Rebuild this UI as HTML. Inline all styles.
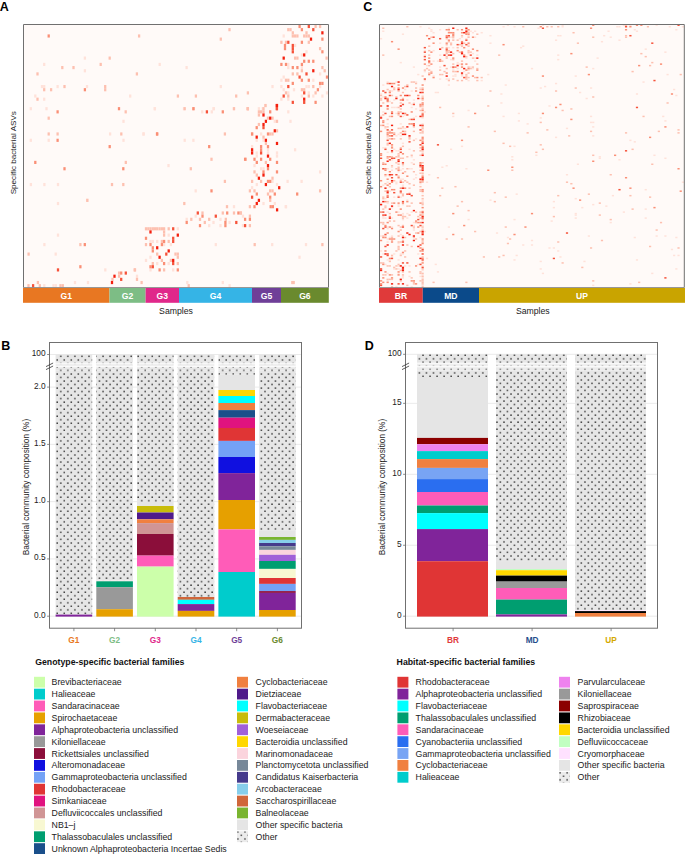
<!DOCTYPE html>
<html><head><meta charset="utf-8"><style>
html,body{margin:0;padding:0;background:#fff;}
body{width:685px;height:854px;overflow:hidden;position:relative;font-family:"Liberation Sans", sans-serif;}
svg{position:absolute;left:0;top:0;}
text{font-family:"Liberation Sans", sans-serif;}
</style></head><body>
<svg width="685" height="854" viewBox="0 0 685 854">
<defs>
<pattern id="dotsB" patternUnits="userSpaceOnUse" x="55.40" y="354.50" width="7.04" height="7.04"><rect width="7.04" height="7.04" fill="#e6e6e6"/><rect x="4.65" y="1.25" width="1.5" height="1.3" fill="#262626"/><rect x="1.13" y="4.77" width="1.5" height="1.3" fill="#262626"/></pattern>
<pattern id="dotsBl" patternUnits="userSpaceOnUse" x="55.40" y="354.50" width="7.04" height="7.04"><rect width="7.04" height="7.04" fill="#efefef"/><rect x="4.65" y="1.25" width="1.5" height="1.3" fill="#aaa"/><rect x="1.13" y="4.77" width="1.5" height="1.3" fill="#aaa"/></pattern>
<pattern id="dotsBm" patternUnits="userSpaceOnUse" x="55.40" y="354.50" width="7.04" height="7.04"><rect width="7.04" height="7.04" fill="#e6e6e6"/><rect x="4.65" y="1.25" width="1.5" height="1.3" fill="#262626"/><rect x="1.13" y="4.77" width="1.5" height="1.3" fill="#262626"/></pattern>
<pattern id="dotsD" patternUnits="userSpaceOnUse" x="417.60" y="353.40" width="7.04" height="7.04"><rect width="7.04" height="7.04" fill="#e6e6e6"/><rect x="4.65" y="1.25" width="1.5" height="1.3" fill="#262626"/><rect x="1.13" y="4.77" width="1.5" height="1.3" fill="#262626"/></pattern>
<pattern id="dotsDl" patternUnits="userSpaceOnUse" x="417.60" y="353.40" width="7.04" height="7.04"><rect width="7.04" height="7.04" fill="#efefef"/><rect x="4.65" y="1.25" width="1.5" height="1.3" fill="#aaa"/><rect x="1.13" y="4.77" width="1.5" height="1.3" fill="#aaa"/></pattern>
<pattern id="dotsDm" patternUnits="userSpaceOnUse" x="417.60" y="353.40" width="7.04" height="7.04"><rect width="7.04" height="7.04" fill="#ebebeb"/><rect x="4.65" y="1.25" width="1.5" height="1.3" fill="#777"/><rect x="1.13" y="4.77" width="1.5" height="1.3" fill="#777"/></pattern>
<pattern id="dotsLB" patternUnits="userSpaceOnUse" x="236.00" y="833.50" width="7.04" height="7.04"><rect width="7.04" height="7.04" fill="#ebebeb"/><rect x="4.65" y="1.25" width="1.5" height="1.3" fill="#333"/><rect x="1.13" y="4.77" width="1.5" height="1.3" fill="#333"/></pattern>
<pattern id="dotsLD" patternUnits="userSpaceOnUse" x="558.20" y="774.40" width="7.04" height="7.04"><rect width="7.04" height="7.04" fill="#ebebeb"/><rect x="4.65" y="1.25" width="1.5" height="1.3" fill="#333"/><rect x="1.13" y="4.77" width="1.5" height="1.3" fill="#333"/></pattern>
</defs>

<text x="-0.3" y="10.6" font-size="12.5" font-weight="bold" fill="#000">A</text>
<text x="363.2" y="10.6" font-size="12.5" font-weight="bold" fill="#000">C</text>
<text x="1.2" y="349.6" font-size="12.5" font-weight="bold" fill="#000">B</text>
<text x="364.8" y="349.8" font-size="12.5" font-weight="bold" fill="#000">D</text>
<rect x="23.5" y="24.5" width="305.0" height="263.5" fill="#fffaf8"/>
<rect x="379.5" y="24.5" width="305.0" height="263.5" fill="#fffaf8"/>
<rect x="83.76" y="56.53" width="2.28" height="3.161" fill="#ffe2da"/>
<rect x="43.06" y="62.85" width="2.28" height="3.161" fill="#ffe2da"/>
<rect x="158.56" y="62.85" width="2.28" height="3.161" fill="#ffe2da"/>
<rect x="83.76" y="69.17" width="2.28" height="3.161" fill="#ffe2da"/>
<rect x="40.86" y="84.98" width="2.28" height="3.161" fill="#ffe2da"/>
<rect x="43.06" y="84.98" width="2.28" height="3.161" fill="#ffe2da"/>
<rect x="56.46" y="84.98" width="2.28" height="3.161" fill="#ffe2da"/>
<rect x="85.86" y="84.98" width="2.28" height="3.161" fill="#ffe2da"/>
<rect x="34.16" y="94.46" width="2.28" height="3.161" fill="#ffe2da"/>
<rect x="43.06" y="97.62" width="2.28" height="3.161" fill="#ffe2da"/>
<rect x="129.06" y="94.46" width="2.28" height="3.161" fill="#ffe2da"/>
<rect x="29.66" y="107.11" width="2.28" height="3.161" fill="#ffe2da"/>
<rect x="45.36" y="107.11" width="2.28" height="3.161" fill="#ffe2da"/>
<rect x="153.66" y="107.11" width="2.28" height="3.161" fill="#ffe2da"/>
<rect x="122.36" y="119.75" width="2.28" height="3.161" fill="#ffe2da"/>
<rect x="108.96" y="132.39" width="2.28" height="3.161" fill="#ffe2da"/>
<rect x="142.46" y="132.39" width="2.28" height="3.161" fill="#ffe2da"/>
<rect x="29.66" y="138.72" width="2.28" height="3.161" fill="#ffe2da"/>
<rect x="47.56" y="138.72" width="2.28" height="3.161" fill="#ffe2da"/>
<rect x="122.36" y="138.72" width="2.28" height="3.161" fill="#ffe2da"/>
<rect x="185.46" y="66.01" width="2.28" height="3.161" fill="#ffe2da"/>
<rect x="219.66" y="84.98" width="2.28" height="3.161" fill="#ffe2da"/>
<rect x="271.36" y="84.98" width="2.28" height="3.161" fill="#ffe2da"/>
<rect x="182.86" y="107.11" width="2.28" height="3.161" fill="#ffe2da"/>
<rect x="212.66" y="107.11" width="2.28" height="3.161" fill="#ffe2da"/>
<rect x="232.76" y="107.11" width="2.28" height="3.161" fill="#ffe2da"/>
<rect x="261.66" y="107.11" width="2.28" height="3.161" fill="#ffe2da"/>
<rect x="29.76" y="182.97" width="2.28" height="3.161" fill="#ffe2da"/>
<rect x="43.26" y="182.97" width="2.28" height="3.161" fill="#ffe2da"/>
<rect x="56.86" y="182.97" width="2.28" height="3.161" fill="#ffe2da"/>
<rect x="56.86" y="201.94" width="2.28" height="3.161" fill="#ffe2da"/>
<rect x="56.86" y="233.55" width="2.28" height="3.161" fill="#ffe2da"/>
<rect x="153.76" y="107.11" width="2.28" height="3.161" fill="#ffe2da"/>
<rect x="212.46" y="107.11" width="2.28" height="3.161" fill="#ffe2da"/>
<rect x="201.06" y="110.27" width="2.28" height="3.161" fill="#ffe2da"/>
<rect x="210.66" y="110.27" width="2.28" height="3.161" fill="#ffe2da"/>
<rect x="142.36" y="132.39" width="2.28" height="3.161" fill="#ffe2da"/>
<rect x="183.56" y="138.72" width="2.28" height="3.161" fill="#ffe2da"/>
<rect x="192.26" y="138.72" width="2.28" height="3.161" fill="#ffe2da"/>
<rect x="167.36" y="164.00" width="2.28" height="3.161" fill="#ffe2da"/>
<rect x="194.56" y="189.29" width="2.28" height="3.161" fill="#ffe2da"/>
<rect x="86.16" y="198.77" width="2.28" height="3.161" fill="#ffe2da"/>
<rect x="43.26" y="243.03" width="2.28" height="3.161" fill="#ffe2da"/>
<rect x="54.56" y="252.51" width="2.28" height="3.161" fill="#ffe2da"/>
<rect x="104.16" y="268.32" width="2.28" height="3.161" fill="#ffe2da"/>
<rect x="73.86" y="280.96" width="2.28" height="3.161" fill="#ffe2da"/>
<rect x="86.86" y="280.96" width="2.28" height="3.161" fill="#ffe2da"/>
<rect x="135.86" y="274.64" width="2.28" height="3.161" fill="#ffe2da"/>
<rect x="43.16" y="284.12" width="2.28" height="3.161" fill="#ffe2da"/>
<rect x="52.36" y="284.12" width="2.28" height="3.161" fill="#ffe2da"/>
<rect x="54.66" y="284.12" width="2.28" height="3.161" fill="#ffe2da"/>
<rect x="214.66" y="243.03" width="2.28" height="3.161" fill="#ffe2da"/>
<rect x="271.06" y="243.03" width="2.28" height="3.161" fill="#ffe2da"/>
<rect x="186.16" y="280.96" width="2.28" height="3.161" fill="#ffe2da"/>
<rect x="221.66" y="280.96" width="2.28" height="3.161" fill="#ffe2da"/>
<rect x="228.46" y="284.12" width="2.28" height="3.161" fill="#ffe2da"/>
<rect x="232.86" y="205.10" width="2.28" height="3.161" fill="#ffe2da"/>
<rect x="194.56" y="214.58" width="2.28" height="3.161" fill="#ffe2da"/>
<rect x="241.86" y="214.58" width="2.28" height="3.161" fill="#ffe2da"/>
<rect x="185.56" y="217.74" width="2.28" height="3.161" fill="#ffe2da"/>
<rect x="219.36" y="217.74" width="2.28" height="3.161" fill="#ffe2da"/>
<rect x="212.36" y="220.90" width="2.28" height="3.161" fill="#ffe2da"/>
<rect x="228.46" y="220.90" width="2.28" height="3.161" fill="#ffe2da"/>
<rect x="208.06" y="224.06" width="2.28" height="3.161" fill="#ffe2da"/>
<rect x="219.36" y="224.06" width="2.28" height="3.161" fill="#ffe2da"/>
<rect x="241.86" y="224.06" width="2.28" height="3.161" fill="#ffe2da"/>
<rect x="284.86" y="205.10" width="2.28" height="3.161" fill="#ffe2da"/>
<rect x="176.66" y="227.22" width="2.28" height="3.161" fill="#ffe2da"/>
<rect x="167.56" y="233.55" width="2.28" height="3.161" fill="#ffe2da"/>
<rect x="149.36" y="239.87" width="2.28" height="3.161" fill="#ffe2da"/>
<rect x="151.66" y="239.87" width="2.28" height="3.161" fill="#ffe2da"/>
<rect x="156.06" y="239.87" width="2.28" height="3.161" fill="#ffe2da"/>
<rect x="162.96" y="243.03" width="2.28" height="3.161" fill="#ffe2da"/>
<rect x="169.76" y="243.03" width="2.28" height="3.161" fill="#ffe2da"/>
<rect x="149.36" y="255.67" width="2.28" height="3.161" fill="#ffe2da"/>
<rect x="144.86" y="258.83" width="2.28" height="3.161" fill="#ffe2da"/>
<rect x="156.06" y="261.99" width="2.28" height="3.161" fill="#ffe2da"/>
<rect x="167.56" y="261.99" width="2.28" height="3.161" fill="#ffe2da"/>
<rect x="149.36" y="268.32" width="2.28" height="3.161" fill="#ffe2da"/>
<rect x="172.06" y="268.32" width="2.28" height="3.161" fill="#ffe2da"/>
<rect x="264.76" y="103.94" width="2.28" height="3.161" fill="#ffe2da"/>
<rect x="257.76" y="107.11" width="2.28" height="3.161" fill="#ffe2da"/>
<rect x="273.66" y="119.75" width="2.28" height="3.161" fill="#ffe2da"/>
<rect x="259.96" y="132.39" width="2.28" height="3.161" fill="#ffe2da"/>
<rect x="255.56" y="138.72" width="2.28" height="3.161" fill="#ffe2da"/>
<rect x="262.36" y="138.72" width="2.28" height="3.161" fill="#ffe2da"/>
<rect x="250.96" y="145.04" width="2.28" height="3.161" fill="#ffe2da"/>
<rect x="266.86" y="148.20" width="2.28" height="3.161" fill="#ffe2da"/>
<rect x="255.56" y="151.36" width="2.28" height="3.161" fill="#ffe2da"/>
<rect x="266.86" y="151.36" width="2.28" height="3.161" fill="#ffe2da"/>
<rect x="275.86" y="151.36" width="2.28" height="3.161" fill="#ffe2da"/>
<rect x="255.66" y="154.52" width="2.28" height="3.161" fill="#ffe2da"/>
<rect x="275.86" y="154.52" width="2.28" height="3.161" fill="#ffe2da"/>
<rect x="253.36" y="164.00" width="2.28" height="3.161" fill="#ffe2da"/>
<rect x="259.96" y="167.16" width="2.28" height="3.161" fill="#ffe2da"/>
<rect x="262.36" y="167.16" width="2.28" height="3.161" fill="#ffe2da"/>
<rect x="271.36" y="179.81" width="2.28" height="3.161" fill="#ffe2da"/>
<rect x="255.66" y="182.97" width="2.28" height="3.161" fill="#ffe2da"/>
<rect x="275.86" y="182.97" width="2.28" height="3.161" fill="#ffe2da"/>
<rect x="250.96" y="186.13" width="2.28" height="3.161" fill="#ffe2da"/>
<rect x="262.36" y="201.94" width="2.28" height="3.161" fill="#ffe2da"/>
<rect x="273.66" y="201.94" width="2.28" height="3.161" fill="#ffe2da"/>
<rect x="282.56" y="34.40" width="2.28" height="3.161" fill="#ffe2da"/>
<rect x="293.96" y="43.89" width="2.28" height="3.161" fill="#ffe2da"/>
<rect x="305.36" y="50.21" width="2.28" height="3.161" fill="#ffe2da"/>
<rect x="300.76" y="53.37" width="2.28" height="3.161" fill="#ffe2da"/>
<rect x="287.16" y="62.85" width="2.28" height="3.161" fill="#ffe2da"/>
<rect x="287.16" y="66.01" width="2.28" height="3.161" fill="#ffe2da"/>
<rect x="300.76" y="66.01" width="2.28" height="3.161" fill="#ffe2da"/>
<rect x="318.96" y="72.33" width="2.28" height="3.161" fill="#ffe2da"/>
<rect x="282.56" y="75.50" width="2.28" height="3.161" fill="#ffe2da"/>
<rect x="280.26" y="78.66" width="2.28" height="3.161" fill="#ffe2da"/>
<rect x="312.16" y="78.66" width="2.28" height="3.161" fill="#ffe2da"/>
<rect x="280.26" y="84.98" width="2.28" height="3.161" fill="#ffe2da"/>
<rect x="305.36" y="84.98" width="2.28" height="3.161" fill="#ffe2da"/>
<rect x="307.66" y="84.98" width="2.28" height="3.161" fill="#ffe2da"/>
<rect x="318.96" y="84.98" width="2.28" height="3.161" fill="#ffe2da"/>
<rect x="282.56" y="88.14" width="2.28" height="3.161" fill="#ffe2da"/>
<rect x="292.86" y="88.14" width="2.28" height="3.161" fill="#ffe2da"/>
<rect x="287.16" y="91.30" width="2.28" height="3.161" fill="#ffe2da"/>
<rect x="307.66" y="91.30" width="2.28" height="3.161" fill="#ffe2da"/>
<rect x="325.86" y="91.30" width="2.28" height="3.161" fill="#ffe2da"/>
<rect x="300.76" y="94.46" width="2.28" height="3.161" fill="#ffe2da"/>
<rect x="312.16" y="94.46" width="2.28" height="3.161" fill="#ffe2da"/>
<rect x="321.26" y="94.46" width="2.28" height="3.161" fill="#ffe2da"/>
<rect x="280.26" y="97.62" width="2.28" height="3.161" fill="#ffe2da"/>
<rect x="287.16" y="97.62" width="2.28" height="3.161" fill="#ffe2da"/>
<rect x="287.16" y="110.27" width="2.28" height="3.161" fill="#ffe2da"/>
<rect x="289.36" y="119.75" width="2.28" height="3.161" fill="#ffe2da"/>
<rect x="293.96" y="148.20" width="2.28" height="3.161" fill="#ffe2da"/>
<rect x="318.96" y="170.33" width="2.28" height="3.161" fill="#ffe2da"/>
<rect x="286.46" y="179.81" width="2.28" height="3.161" fill="#ffe2da"/>
<rect x="300.46" y="179.81" width="2.28" height="3.161" fill="#ffe2da"/>
<rect x="284.66" y="205.10" width="2.28" height="3.161" fill="#ffe2da"/>
<rect x="304.86" y="243.03" width="2.28" height="3.161" fill="#ffe2da"/>
<rect x="298.36" y="255.67" width="2.28" height="3.161" fill="#ffe2da"/>
<rect x="137.96" y="34.40" width="2.28" height="3.161" fill="#fdc0b0"/>
<rect x="108.56" y="56.53" width="2.28" height="3.161" fill="#fdc0b0"/>
<rect x="61.16" y="66.01" width="2.28" height="3.161" fill="#fdc0b0"/>
<rect x="72.36" y="66.01" width="2.28" height="3.161" fill="#fdc0b0"/>
<rect x="99.56" y="62.85" width="2.28" height="3.161" fill="#fdc0b0"/>
<rect x="36.36" y="72.33" width="2.28" height="3.161" fill="#fdc0b0"/>
<rect x="135.76" y="72.33" width="2.28" height="3.161" fill="#fdc0b0"/>
<rect x="43.06" y="88.14" width="2.28" height="3.161" fill="#fdc0b0"/>
<rect x="49.96" y="88.14" width="2.28" height="3.161" fill="#fdc0b0"/>
<rect x="63.36" y="84.98" width="2.28" height="3.161" fill="#fdc0b0"/>
<rect x="104.06" y="84.98" width="2.28" height="3.161" fill="#fdc0b0"/>
<rect x="104.06" y="88.14" width="2.28" height="3.161" fill="#fdc0b0"/>
<rect x="36.36" y="97.62" width="2.28" height="3.161" fill="#fdc0b0"/>
<rect x="124.56" y="110.27" width="2.28" height="3.161" fill="#fdc0b0"/>
<rect x="47.56" y="116.59" width="2.28" height="3.161" fill="#fdc0b0"/>
<rect x="47.56" y="132.39" width="2.28" height="3.161" fill="#fdc0b0"/>
<rect x="56.46" y="132.39" width="2.28" height="3.161" fill="#fdc0b0"/>
<rect x="120.16" y="132.39" width="2.28" height="3.161" fill="#fdc0b0"/>
<rect x="228.36" y="28.08" width="2.28" height="3.161" fill="#fdc0b0"/>
<rect x="219.66" y="37.56" width="2.28" height="3.161" fill="#fdc0b0"/>
<rect x="176.76" y="94.46" width="2.28" height="3.161" fill="#fdc0b0"/>
<rect x="194.76" y="94.46" width="2.28" height="3.161" fill="#fdc0b0"/>
<rect x="235.06" y="94.46" width="2.28" height="3.161" fill="#fdc0b0"/>
<rect x="246.76" y="91.30" width="2.28" height="3.161" fill="#fdc0b0"/>
<rect x="192.46" y="107.11" width="2.28" height="3.161" fill="#fdc0b0"/>
<rect x="246.76" y="107.11" width="2.28" height="3.161" fill="#fdc0b0"/>
<rect x="264.26" y="103.94" width="2.28" height="3.161" fill="#fdc0b0"/>
<rect x="124.66" y="160.84" width="2.28" height="3.161" fill="#fdc0b0"/>
<rect x="110.86" y="182.97" width="2.28" height="3.161" fill="#fdc0b0"/>
<rect x="122.16" y="182.97" width="2.28" height="3.161" fill="#fdc0b0"/>
<rect x="86.16" y="198.77" width="2.28" height="3.161" fill="#fdc0b0"/>
<rect x="183.56" y="107.11" width="2.28" height="3.161" fill="#fdc0b0"/>
<rect x="232.86" y="107.11" width="2.28" height="3.161" fill="#fdc0b0"/>
<rect x="246.56" y="107.11" width="2.28" height="3.161" fill="#fdc0b0"/>
<rect x="223.76" y="132.39" width="2.28" height="3.161" fill="#fdc0b0"/>
<rect x="210.36" y="157.68" width="2.28" height="3.161" fill="#fdc0b0"/>
<rect x="189.66" y="167.16" width="2.28" height="3.161" fill="#fdc0b0"/>
<rect x="223.76" y="179.81" width="2.28" height="3.161" fill="#fdc0b0"/>
<rect x="79.26" y="243.03" width="2.28" height="3.161" fill="#fdc0b0"/>
<rect x="27.46" y="252.51" width="2.28" height="3.161" fill="#fdc0b0"/>
<rect x="133.56" y="268.32" width="2.28" height="3.161" fill="#fdc0b0"/>
<rect x="36.76" y="280.96" width="2.28" height="3.161" fill="#fdc0b0"/>
<rect x="117.96" y="271.48" width="2.28" height="3.161" fill="#fdc0b0"/>
<rect x="117.96" y="274.64" width="2.28" height="3.161" fill="#fdc0b0"/>
<rect x="111.36" y="277.80" width="2.28" height="3.161" fill="#fdc0b0"/>
<rect x="135.86" y="277.80" width="2.28" height="3.161" fill="#fdc0b0"/>
<rect x="140.46" y="280.96" width="2.28" height="3.161" fill="#fdc0b0"/>
<rect x="133.86" y="268.32" width="2.28" height="3.161" fill="#fdc0b0"/>
<rect x="27.36" y="284.12" width="2.28" height="3.161" fill="#fdc0b0"/>
<rect x="38.66" y="284.12" width="2.28" height="3.161" fill="#fdc0b0"/>
<rect x="59.36" y="284.12" width="2.28" height="3.161" fill="#fdc0b0"/>
<rect x="61.66" y="284.12" width="2.28" height="3.161" fill="#fdc0b0"/>
<rect x="253.56" y="243.03" width="2.28" height="3.161" fill="#fdc0b0"/>
<rect x="187.56" y="284.12" width="2.28" height="3.161" fill="#fdc0b0"/>
<rect x="291.16" y="280.96" width="2.28" height="3.161" fill="#fdc0b0"/>
<rect x="225.86" y="205.10" width="2.28" height="3.161" fill="#fdc0b0"/>
<rect x="248.76" y="205.10" width="2.28" height="3.161" fill="#fdc0b0"/>
<rect x="201.36" y="211.42" width="2.28" height="3.161" fill="#fdc0b0"/>
<rect x="221.66" y="211.42" width="2.28" height="3.161" fill="#fdc0b0"/>
<rect x="232.86" y="211.42" width="2.28" height="3.161" fill="#fdc0b0"/>
<rect x="239.56" y="211.42" width="2.28" height="3.161" fill="#fdc0b0"/>
<rect x="239.76" y="211.42" width="2.28" height="3.161" fill="#fdc0b0"/>
<rect x="248.76" y="214.58" width="2.28" height="3.161" fill="#fdc0b0"/>
<rect x="190.16" y="217.74" width="2.28" height="3.161" fill="#fdc0b0"/>
<rect x="198.86" y="217.74" width="2.28" height="3.161" fill="#fdc0b0"/>
<rect x="208.06" y="217.74" width="2.28" height="3.161" fill="#fdc0b0"/>
<rect x="224.66" y="217.74" width="2.28" height="3.161" fill="#fdc0b0"/>
<rect x="203.66" y="220.90" width="2.28" height="3.161" fill="#fdc0b0"/>
<rect x="248.76" y="224.06" width="2.28" height="3.161" fill="#fdc0b0"/>
<rect x="183.16" y="201.94" width="2.28" height="3.161" fill="#fdc0b0"/>
<rect x="144.86" y="227.22" width="2.28" height="3.161" fill="#fdc0b0"/>
<rect x="147.16" y="227.22" width="2.28" height="3.161" fill="#fdc0b0"/>
<rect x="149.36" y="227.22" width="2.28" height="3.161" fill="#fdc0b0"/>
<rect x="151.66" y="227.22" width="2.28" height="3.161" fill="#fdc0b0"/>
<rect x="153.86" y="227.22" width="2.28" height="3.161" fill="#fdc0b0"/>
<rect x="156.06" y="227.22" width="2.28" height="3.161" fill="#fdc0b0"/>
<rect x="158.46" y="227.22" width="2.28" height="3.161" fill="#fdc0b0"/>
<rect x="160.76" y="227.22" width="2.28" height="3.161" fill="#fdc0b0"/>
<rect x="162.96" y="227.22" width="2.28" height="3.161" fill="#fdc0b0"/>
<rect x="167.56" y="227.22" width="2.28" height="3.161" fill="#fdc0b0"/>
<rect x="162.96" y="230.38" width="2.28" height="3.161" fill="#fdc0b0"/>
<rect x="162.96" y="233.55" width="2.28" height="3.161" fill="#fdc0b0"/>
<rect x="160.76" y="239.87" width="2.28" height="3.161" fill="#fdc0b0"/>
<rect x="167.56" y="239.87" width="2.28" height="3.161" fill="#fdc0b0"/>
<rect x="144.86" y="243.03" width="2.28" height="3.161" fill="#fdc0b0"/>
<rect x="156.06" y="252.51" width="2.28" height="3.161" fill="#fdc0b0"/>
<rect x="174.36" y="252.51" width="2.28" height="3.161" fill="#fdc0b0"/>
<rect x="176.66" y="252.51" width="2.28" height="3.161" fill="#fdc0b0"/>
<rect x="176.66" y="255.67" width="2.28" height="3.161" fill="#fdc0b0"/>
<rect x="160.76" y="258.83" width="2.28" height="3.161" fill="#fdc0b0"/>
<rect x="169.76" y="258.83" width="2.28" height="3.161" fill="#fdc0b0"/>
<rect x="151.66" y="261.99" width="2.28" height="3.161" fill="#fdc0b0"/>
<rect x="176.66" y="261.99" width="2.28" height="3.161" fill="#fdc0b0"/>
<rect x="162.96" y="268.32" width="2.28" height="3.161" fill="#fdc0b0"/>
<rect x="246.66" y="107.11" width="2.28" height="3.161" fill="#fdc0b0"/>
<rect x="262.36" y="107.11" width="2.28" height="3.161" fill="#fdc0b0"/>
<rect x="257.76" y="110.27" width="2.28" height="3.161" fill="#fdc0b0"/>
<rect x="259.96" y="110.27" width="2.28" height="3.161" fill="#fdc0b0"/>
<rect x="262.36" y="110.27" width="2.28" height="3.161" fill="#fdc0b0"/>
<rect x="257.76" y="113.43" width="2.28" height="3.161" fill="#fdc0b0"/>
<rect x="266.86" y="116.59" width="2.28" height="3.161" fill="#fdc0b0"/>
<rect x="271.36" y="116.59" width="2.28" height="3.161" fill="#fdc0b0"/>
<rect x="275.86" y="119.75" width="2.28" height="3.161" fill="#fdc0b0"/>
<rect x="257.76" y="122.91" width="2.28" height="3.161" fill="#fdc0b0"/>
<rect x="275.86" y="129.23" width="2.28" height="3.161" fill="#fdc0b0"/>
<rect x="250.96" y="132.39" width="2.28" height="3.161" fill="#fdc0b0"/>
<rect x="269.06" y="132.39" width="2.28" height="3.161" fill="#fdc0b0"/>
<rect x="271.36" y="132.39" width="2.28" height="3.161" fill="#fdc0b0"/>
<rect x="262.36" y="135.55" width="2.28" height="3.161" fill="#fdc0b0"/>
<rect x="264.76" y="141.88" width="2.28" height="3.161" fill="#fdc0b0"/>
<rect x="244.66" y="157.68" width="2.28" height="3.161" fill="#fdc0b0"/>
<rect x="264.76" y="160.84" width="2.28" height="3.161" fill="#fdc0b0"/>
<rect x="253.36" y="170.33" width="2.28" height="3.161" fill="#fdc0b0"/>
<rect x="255.66" y="173.49" width="2.28" height="3.161" fill="#fdc0b0"/>
<rect x="271.36" y="176.65" width="2.28" height="3.161" fill="#fdc0b0"/>
<rect x="250.96" y="179.81" width="2.28" height="3.161" fill="#fdc0b0"/>
<rect x="259.96" y="179.81" width="2.28" height="3.161" fill="#fdc0b0"/>
<rect x="248.76" y="189.29" width="2.28" height="3.161" fill="#fdc0b0"/>
<rect x="253.36" y="189.29" width="2.28" height="3.161" fill="#fdc0b0"/>
<rect x="269.06" y="189.29" width="2.28" height="3.161" fill="#fdc0b0"/>
<rect x="271.36" y="189.29" width="2.28" height="3.161" fill="#fdc0b0"/>
<rect x="266.86" y="192.45" width="2.28" height="3.161" fill="#fdc0b0"/>
<rect x="269.06" y="198.77" width="2.28" height="3.161" fill="#fdc0b0"/>
<rect x="314.46" y="24.92" width="2.28" height="3.161" fill="#fdc0b0"/>
<rect x="318.96" y="24.92" width="2.28" height="3.161" fill="#fdc0b0"/>
<rect x="287.16" y="28.08" width="2.28" height="3.161" fill="#fdc0b0"/>
<rect x="289.36" y="28.08" width="2.28" height="3.161" fill="#fdc0b0"/>
<rect x="291.66" y="31.24" width="2.28" height="3.161" fill="#fdc0b0"/>
<rect x="305.36" y="31.24" width="2.28" height="3.161" fill="#fdc0b0"/>
<rect x="291.66" y="34.40" width="2.28" height="3.161" fill="#fdc0b0"/>
<rect x="293.96" y="34.40" width="2.28" height="3.161" fill="#fdc0b0"/>
<rect x="296.26" y="34.40" width="2.28" height="3.161" fill="#fdc0b0"/>
<rect x="303.06" y="34.40" width="2.28" height="3.161" fill="#fdc0b0"/>
<rect x="305.36" y="34.40" width="2.28" height="3.161" fill="#fdc0b0"/>
<rect x="307.66" y="34.40" width="2.28" height="3.161" fill="#fdc0b0"/>
<rect x="280.26" y="40.72" width="2.28" height="3.161" fill="#fdc0b0"/>
<rect x="284.86" y="40.72" width="2.28" height="3.161" fill="#fdc0b0"/>
<rect x="307.66" y="40.72" width="2.28" height="3.161" fill="#fdc0b0"/>
<rect x="318.96" y="47.05" width="2.28" height="3.161" fill="#fdc0b0"/>
<rect x="293.96" y="56.53" width="2.28" height="3.161" fill="#fdc0b0"/>
<rect x="296.26" y="56.53" width="2.28" height="3.161" fill="#fdc0b0"/>
<rect x="325.46" y="56.53" width="2.28" height="3.161" fill="#fdc0b0"/>
<rect x="321.26" y="66.01" width="2.28" height="3.161" fill="#fdc0b0"/>
<rect x="300.76" y="69.17" width="2.28" height="3.161" fill="#fdc0b0"/>
<rect x="323.56" y="69.17" width="2.28" height="3.161" fill="#fdc0b0"/>
<rect x="291.66" y="72.33" width="2.28" height="3.161" fill="#fdc0b0"/>
<rect x="296.26" y="72.33" width="2.28" height="3.161" fill="#fdc0b0"/>
<rect x="284.86" y="78.66" width="2.28" height="3.161" fill="#fdc0b0"/>
<rect x="287.16" y="78.66" width="2.28" height="3.161" fill="#fdc0b0"/>
<rect x="312.16" y="84.98" width="2.28" height="3.161" fill="#fdc0b0"/>
<rect x="300.76" y="88.14" width="2.28" height="3.161" fill="#fdc0b0"/>
<rect x="303.06" y="88.14" width="2.28" height="3.161" fill="#fdc0b0"/>
<rect x="284.86" y="91.30" width="2.28" height="3.161" fill="#fdc0b0"/>
<rect x="314.46" y="91.30" width="2.28" height="3.161" fill="#fdc0b0"/>
<rect x="287.16" y="94.46" width="2.28" height="3.161" fill="#fdc0b0"/>
<rect x="307.66" y="94.46" width="2.28" height="3.161" fill="#fdc0b0"/>
<rect x="318.96" y="189.29" width="2.28" height="3.161" fill="#fdc0b0"/>
<rect x="321.26" y="243.03" width="2.28" height="3.161" fill="#fdc0b0"/>
<rect x="292.56" y="280.96" width="2.28" height="3.161" fill="#fdc0b0"/>
<rect x="47.56" y="34.40" width="2.28" height="3.161" fill="#fa8f76"/>
<rect x="83.76" y="88.14" width="2.28" height="3.161" fill="#fa8f76"/>
<rect x="56.46" y="110.27" width="2.28" height="3.161" fill="#fa8f76"/>
<rect x="117.86" y="107.11" width="2.28" height="3.161" fill="#fa8f76"/>
<rect x="155.86" y="132.39" width="2.28" height="3.161" fill="#fa8f76"/>
<rect x="56.46" y="138.72" width="2.28" height="3.161" fill="#fa8f76"/>
<rect x="108.56" y="145.04" width="2.28" height="3.161" fill="#fa8f76"/>
<rect x="34.16" y="160.84" width="2.28" height="3.161" fill="#fa8f76"/>
<rect x="63.36" y="167.16" width="2.28" height="3.161" fill="#fa8f76"/>
<rect x="122.16" y="167.16" width="2.28" height="3.161" fill="#fa8f76"/>
<rect x="192.26" y="107.11" width="2.28" height="3.161" fill="#fa8f76"/>
<rect x="221.66" y="110.27" width="2.28" height="3.161" fill="#fa8f76"/>
<rect x="156.06" y="132.39" width="2.28" height="3.161" fill="#fa8f76"/>
<rect x="250.96" y="132.39" width="2.28" height="3.161" fill="#fa8f76"/>
<rect x="208.06" y="145.04" width="2.28" height="3.161" fill="#fa8f76"/>
<rect x="243.96" y="157.68" width="2.28" height="3.161" fill="#fa8f76"/>
<rect x="210.36" y="189.29" width="2.28" height="3.161" fill="#fa8f76"/>
<rect x="83.66" y="243.03" width="2.28" height="3.161" fill="#fa8f76"/>
<rect x="79.26" y="265.16" width="2.28" height="3.161" fill="#fa8f76"/>
<rect x="120.06" y="271.48" width="2.28" height="3.161" fill="#fa8f76"/>
<rect x="253.36" y="205.10" width="2.28" height="3.161" fill="#fa8f76"/>
<rect x="226.06" y="211.42" width="2.28" height="3.161" fill="#fa8f76"/>
<rect x="237.26" y="211.42" width="2.28" height="3.161" fill="#fa8f76"/>
<rect x="201.36" y="214.58" width="2.28" height="3.161" fill="#fa8f76"/>
<rect x="243.96" y="217.74" width="2.28" height="3.161" fill="#fa8f76"/>
<rect x="248.76" y="217.74" width="2.28" height="3.161" fill="#fa8f76"/>
<rect x="185.56" y="220.90" width="2.28" height="3.161" fill="#fa8f76"/>
<rect x="224.26" y="220.90" width="2.28" height="3.161" fill="#fa8f76"/>
<rect x="198.86" y="224.06" width="2.28" height="3.161" fill="#fa8f76"/>
<rect x="224.26" y="224.06" width="2.28" height="3.161" fill="#fa8f76"/>
<rect x="269.56" y="205.10" width="2.28" height="3.161" fill="#fa8f76"/>
<rect x="271.76" y="205.10" width="2.28" height="3.161" fill="#fa8f76"/>
<rect x="144.86" y="236.71" width="2.28" height="3.161" fill="#fa8f76"/>
<rect x="162.96" y="239.87" width="2.28" height="3.161" fill="#fa8f76"/>
<rect x="149.36" y="243.03" width="2.28" height="3.161" fill="#fa8f76"/>
<rect x="160.76" y="243.03" width="2.28" height="3.161" fill="#fa8f76"/>
<rect x="151.66" y="246.19" width="2.28" height="3.161" fill="#fa8f76"/>
<rect x="151.66" y="249.35" width="2.28" height="3.161" fill="#fa8f76"/>
<rect x="162.96" y="261.99" width="2.28" height="3.161" fill="#fa8f76"/>
<rect x="149.36" y="265.16" width="2.28" height="3.161" fill="#fa8f76"/>
<rect x="158.46" y="268.32" width="2.28" height="3.161" fill="#fa8f76"/>
<rect x="176.66" y="268.32" width="2.28" height="3.161" fill="#fa8f76"/>
<rect x="275.86" y="107.11" width="2.28" height="3.161" fill="#fa8f76"/>
<rect x="269.06" y="110.27" width="2.28" height="3.161" fill="#fa8f76"/>
<rect x="255.56" y="126.07" width="2.28" height="3.161" fill="#fa8f76"/>
<rect x="266.86" y="132.39" width="2.28" height="3.161" fill="#fa8f76"/>
<rect x="259.96" y="145.04" width="2.28" height="3.161" fill="#fa8f76"/>
<rect x="266.86" y="145.04" width="2.28" height="3.161" fill="#fa8f76"/>
<rect x="259.96" y="148.20" width="2.28" height="3.161" fill="#fa8f76"/>
<rect x="253.36" y="157.68" width="2.28" height="3.161" fill="#fa8f76"/>
<rect x="259.96" y="157.68" width="2.28" height="3.161" fill="#fa8f76"/>
<rect x="269.06" y="157.68" width="2.28" height="3.161" fill="#fa8f76"/>
<rect x="255.66" y="160.84" width="2.28" height="3.161" fill="#fa8f76"/>
<rect x="275.86" y="160.84" width="2.28" height="3.161" fill="#fa8f76"/>
<rect x="266.86" y="167.16" width="2.28" height="3.161" fill="#fa8f76"/>
<rect x="262.36" y="170.33" width="2.28" height="3.161" fill="#fa8f76"/>
<rect x="275.86" y="170.33" width="2.28" height="3.161" fill="#fa8f76"/>
<rect x="266.86" y="179.81" width="2.28" height="3.161" fill="#fa8f76"/>
<rect x="269.06" y="179.81" width="2.28" height="3.161" fill="#fa8f76"/>
<rect x="255.66" y="192.45" width="2.28" height="3.161" fill="#fa8f76"/>
<rect x="273.66" y="192.45" width="2.28" height="3.161" fill="#fa8f76"/>
<rect x="269.06" y="195.61" width="2.28" height="3.161" fill="#fa8f76"/>
<rect x="298.46" y="24.92" width="2.28" height="3.161" fill="#fa8f76"/>
<rect x="300.76" y="28.08" width="2.28" height="3.161" fill="#fa8f76"/>
<rect x="321.26" y="37.56" width="2.28" height="3.161" fill="#fa8f76"/>
<rect x="300.76" y="40.72" width="2.28" height="3.161" fill="#fa8f76"/>
<rect x="283.86" y="43.89" width="2.28" height="3.161" fill="#fa8f76"/>
<rect x="283.86" y="47.05" width="2.28" height="3.161" fill="#fa8f76"/>
<rect x="321.26" y="50.21" width="2.28" height="3.161" fill="#fa8f76"/>
<rect x="303.06" y="59.69" width="2.28" height="3.161" fill="#fa8f76"/>
<rect x="307.66" y="59.69" width="2.28" height="3.161" fill="#fa8f76"/>
<rect x="312.16" y="59.69" width="2.28" height="3.161" fill="#fa8f76"/>
<rect x="280.26" y="62.85" width="2.28" height="3.161" fill="#fa8f76"/>
<rect x="284.86" y="62.85" width="2.28" height="3.161" fill="#fa8f76"/>
<rect x="300.76" y="62.85" width="2.28" height="3.161" fill="#fa8f76"/>
<rect x="291.66" y="66.01" width="2.28" height="3.161" fill="#fa8f76"/>
<rect x="296.26" y="66.01" width="2.28" height="3.161" fill="#fa8f76"/>
<rect x="325.86" y="75.50" width="2.28" height="3.161" fill="#fa8f76"/>
<rect x="300.76" y="78.66" width="2.28" height="3.161" fill="#fa8f76"/>
<rect x="307.66" y="78.66" width="2.28" height="3.161" fill="#fa8f76"/>
<rect x="291.66" y="81.82" width="2.28" height="3.161" fill="#fa8f76"/>
<rect x="318.96" y="81.82" width="2.28" height="3.161" fill="#fa8f76"/>
<rect x="321.26" y="81.82" width="2.28" height="3.161" fill="#fa8f76"/>
<rect x="316.76" y="88.14" width="2.28" height="3.161" fill="#fa8f76"/>
<rect x="314.46" y="100.78" width="2.28" height="3.161" fill="#fa8f76"/>
<rect x="296.06" y="192.45" width="2.28" height="3.161" fill="#fa8f76"/>
<rect x="275.66" y="107.11" width="2.28" height="3.161" fill="#f6523a"/>
<rect x="205.76" y="110.27" width="2.28" height="3.161" fill="#f6523a"/>
<rect x="56.86" y="268.32" width="2.28" height="3.161" fill="#f6523a"/>
<rect x="124.66" y="271.48" width="2.28" height="3.161" fill="#f6523a"/>
<rect x="120.06" y="277.80" width="2.28" height="3.161" fill="#f6523a"/>
<rect x="31.96" y="284.12" width="2.28" height="3.161" fill="#f6523a"/>
<rect x="196.66" y="211.42" width="2.28" height="3.161" fill="#f6523a"/>
<rect x="214.66" y="214.58" width="2.28" height="3.161" fill="#f6523a"/>
<rect x="235.16" y="220.90" width="2.28" height="3.161" fill="#f6523a"/>
<rect x="243.96" y="224.06" width="2.28" height="3.161" fill="#f6523a"/>
<rect x="172.06" y="227.22" width="2.28" height="3.161" fill="#f6523a"/>
<rect x="172.06" y="236.71" width="2.28" height="3.161" fill="#f6523a"/>
<rect x="172.06" y="239.87" width="2.28" height="3.161" fill="#f6523a"/>
<rect x="165.16" y="252.51" width="2.28" height="3.161" fill="#f6523a"/>
<rect x="172.06" y="261.99" width="2.28" height="3.161" fill="#f6523a"/>
<rect x="151.66" y="265.16" width="2.28" height="3.161" fill="#f6523a"/>
<rect x="262.36" y="126.07" width="2.28" height="3.161" fill="#f6523a"/>
<rect x="259.96" y="151.36" width="2.28" height="3.161" fill="#f6523a"/>
<rect x="250.96" y="195.61" width="2.28" height="3.161" fill="#f6523a"/>
<rect x="307.66" y="24.92" width="2.28" height="3.161" fill="#f6523a"/>
<rect x="312.16" y="28.08" width="2.28" height="3.161" fill="#f6523a"/>
<rect x="287.16" y="40.72" width="2.28" height="3.161" fill="#f6523a"/>
<rect x="291.66" y="43.89" width="2.28" height="3.161" fill="#f6523a"/>
<rect x="291.66" y="47.05" width="2.28" height="3.161" fill="#f6523a"/>
<rect x="291.66" y="50.21" width="2.28" height="3.161" fill="#f6523a"/>
<rect x="305.36" y="72.33" width="2.28" height="3.161" fill="#f6523a"/>
<rect x="298.46" y="75.50" width="2.28" height="3.161" fill="#f6523a"/>
<rect x="287.16" y="84.98" width="2.28" height="3.161" fill="#f6523a"/>
<rect x="303.06" y="91.30" width="2.28" height="3.161" fill="#f6523a"/>
<rect x="282.56" y="94.46" width="2.28" height="3.161" fill="#f6523a"/>
<rect x="291.66" y="100.78" width="2.28" height="3.161" fill="#f6523a"/>
<rect x="303.06" y="100.78" width="2.28" height="3.161" fill="#f6523a"/>
<rect x="275.66" y="103.94" width="2.28" height="3.161" fill="#f41f0e"/>
<rect x="113.36" y="274.64" width="2.28" height="3.161" fill="#f41f0e"/>
<rect x="110.86" y="280.96" width="2.28" height="3.161" fill="#f41f0e"/>
<rect x="275.96" y="208.26" width="2.28" height="3.161" fill="#f41f0e"/>
<rect x="149.36" y="230.38" width="2.28" height="3.161" fill="#f41f0e"/>
<rect x="176.66" y="233.55" width="2.28" height="3.161" fill="#f41f0e"/>
<rect x="156.06" y="246.19" width="2.28" height="3.161" fill="#f41f0e"/>
<rect x="167.56" y="249.35" width="2.28" height="3.161" fill="#f41f0e"/>
<rect x="158.46" y="255.67" width="2.28" height="3.161" fill="#f41f0e"/>
<rect x="172.06" y="258.83" width="2.28" height="3.161" fill="#f41f0e"/>
<rect x="275.86" y="103.94" width="2.28" height="3.161" fill="#f41f0e"/>
<rect x="262.36" y="113.43" width="2.28" height="3.161" fill="#f41f0e"/>
<rect x="269.06" y="116.59" width="2.28" height="3.161" fill="#f41f0e"/>
<rect x="264.76" y="119.75" width="2.28" height="3.161" fill="#f41f0e"/>
<rect x="262.36" y="122.91" width="2.28" height="3.161" fill="#f41f0e"/>
<rect x="273.66" y="129.23" width="2.28" height="3.161" fill="#f41f0e"/>
<rect x="255.56" y="135.55" width="2.28" height="3.161" fill="#f41f0e"/>
<rect x="264.76" y="138.72" width="2.28" height="3.161" fill="#f41f0e"/>
<rect x="275.86" y="141.88" width="2.28" height="3.161" fill="#f41f0e"/>
<rect x="250.96" y="148.20" width="2.28" height="3.161" fill="#f41f0e"/>
<rect x="250.96" y="151.36" width="2.28" height="3.161" fill="#f41f0e"/>
<rect x="266.86" y="154.52" width="2.28" height="3.161" fill="#f41f0e"/>
<rect x="266.86" y="164.00" width="2.28" height="3.161" fill="#f41f0e"/>
<rect x="262.36" y="173.49" width="2.28" height="3.161" fill="#f41f0e"/>
<rect x="257.76" y="176.65" width="2.28" height="3.161" fill="#f41f0e"/>
<rect x="264.76" y="182.97" width="2.28" height="3.161" fill="#f41f0e"/>
<rect x="278.06" y="186.13" width="2.28" height="3.161" fill="#f41f0e"/>
<rect x="257.76" y="198.77" width="2.28" height="3.161" fill="#f41f0e"/>
<rect x="255.66" y="201.94" width="2.28" height="3.161" fill="#f41f0e"/>
<rect x="321.26" y="31.24" width="2.28" height="3.161" fill="#f41f0e"/>
<rect x="309.86" y="37.56" width="2.28" height="3.161" fill="#f41f0e"/>
<rect x="303.06" y="53.37" width="2.28" height="3.161" fill="#f41f0e"/>
<rect x="282.56" y="56.53" width="2.28" height="3.161" fill="#f41f0e"/>
<rect x="312.16" y="69.17" width="2.28" height="3.161" fill="#f41f0e"/>
<rect x="303.06" y="97.62" width="2.28" height="3.161" fill="#f41f0e"/>
<rect x="425.93" y="64.86" width="2.19" height="1.49" fill="#ffe2da"/>
<rect x="428.12" y="27.49" width="2.19" height="1.49" fill="#ffe2da"/>
<rect x="434.68" y="91.77" width="2.19" height="1.49" fill="#ffe2da"/>
<rect x="436.86" y="91.77" width="2.19" height="1.49" fill="#ffe2da"/>
<rect x="447.80" y="30.48" width="2.19" height="1.49" fill="#ffe2da"/>
<rect x="447.80" y="84.30" width="2.19" height="1.49" fill="#ffe2da"/>
<rect x="452.17" y="69.35" width="2.19" height="1.49" fill="#ffe2da"/>
<rect x="456.55" y="61.87" width="2.19" height="1.49" fill="#ffe2da"/>
<rect x="458.73" y="63.37" width="2.19" height="1.49" fill="#ffe2da"/>
<rect x="469.67" y="66.36" width="2.19" height="1.49" fill="#ffe2da"/>
<rect x="471.86" y="52.90" width="2.19" height="1.49" fill="#ffe2da"/>
<rect x="471.86" y="67.85" width="2.19" height="1.49" fill="#ffe2da"/>
<rect x="480.60" y="31.97" width="2.19" height="1.49" fill="#ffe2da"/>
<rect x="480.60" y="79.81" width="2.19" height="1.49" fill="#ffe2da"/>
<rect x="487.17" y="73.83" width="2.19" height="1.49" fill="#ffe2da"/>
<rect x="489.35" y="34.96" width="2.19" height="1.49" fill="#ffe2da"/>
<rect x="489.35" y="42.44" width="2.19" height="1.49" fill="#ffe2da"/>
<rect x="500.29" y="93.26" width="2.19" height="1.49" fill="#ffe2da"/>
<rect x="504.66" y="84.30" width="2.19" height="1.49" fill="#ffe2da"/>
<rect x="519.97" y="46.92" width="2.19" height="1.49" fill="#ffe2da"/>
<rect x="522.16" y="45.43" width="2.19" height="1.49" fill="#ffe2da"/>
<rect x="530.91" y="67.85" width="2.19" height="1.49" fill="#ffe2da"/>
<rect x="537.47" y="27.49" width="2.19" height="1.49" fill="#ffe2da"/>
<rect x="539.65" y="87.29" width="2.19" height="1.49" fill="#ffe2da"/>
<rect x="544.03" y="85.79" width="2.19" height="1.49" fill="#ffe2da"/>
<rect x="554.96" y="39.45" width="2.19" height="1.49" fill="#ffe2da"/>
<rect x="554.96" y="82.80" width="2.19" height="1.49" fill="#ffe2da"/>
<rect x="557.15" y="34.96" width="2.19" height="1.49" fill="#ffe2da"/>
<rect x="557.15" y="54.40" width="2.19" height="1.49" fill="#ffe2da"/>
<rect x="557.15" y="58.88" width="2.19" height="1.49" fill="#ffe2da"/>
<rect x="559.34" y="34.96" width="2.19" height="1.49" fill="#ffe2da"/>
<rect x="574.65" y="75.33" width="2.19" height="1.49" fill="#ffe2da"/>
<rect x="579.02" y="91.77" width="2.19" height="1.49" fill="#ffe2da"/>
<rect x="585.58" y="97.75" width="2.19" height="1.49" fill="#ffe2da"/>
<rect x="589.96" y="87.29" width="2.19" height="1.49" fill="#ffe2da"/>
<rect x="592.14" y="67.85" width="2.19" height="1.49" fill="#ffe2da"/>
<rect x="596.52" y="57.39" width="2.19" height="1.49" fill="#ffe2da"/>
<rect x="600.89" y="40.94" width="2.19" height="1.49" fill="#ffe2da"/>
<rect x="603.08" y="34.96" width="2.19" height="1.49" fill="#ffe2da"/>
<rect x="607.45" y="30.48" width="2.19" height="1.49" fill="#ffe2da"/>
<rect x="609.64" y="36.46" width="2.19" height="1.49" fill="#ffe2da"/>
<rect x="618.39" y="39.45" width="2.19" height="1.49" fill="#ffe2da"/>
<rect x="633.70" y="28.98" width="2.19" height="1.49" fill="#ffe2da"/>
<rect x="635.88" y="30.48" width="2.19" height="1.49" fill="#ffe2da"/>
<rect x="635.88" y="93.26" width="2.19" height="1.49" fill="#ffe2da"/>
<rect x="642.45" y="81.31" width="2.19" height="1.49" fill="#ffe2da"/>
<rect x="644.63" y="48.42" width="2.19" height="1.49" fill="#ffe2da"/>
<rect x="664.32" y="51.41" width="2.19" height="1.49" fill="#ffe2da"/>
<rect x="666.50" y="73.83" width="2.19" height="1.49" fill="#ffe2da"/>
<rect x="668.69" y="25.99" width="2.19" height="1.49" fill="#ffe2da"/>
<rect x="673.06" y="88.78" width="2.19" height="1.49" fill="#ffe2da"/>
<rect x="675.25" y="28.98" width="2.19" height="1.49" fill="#ffe2da"/>
<rect x="675.25" y="94.76" width="2.19" height="1.49" fill="#ffe2da"/>
<rect x="423.74" y="111.20" width="2.19" height="1.49" fill="#ffe2da"/>
<rect x="423.74" y="230.79" width="2.19" height="1.49" fill="#ffe2da"/>
<rect x="425.93" y="181.46" width="2.19" height="1.49" fill="#ffe2da"/>
<rect x="425.93" y="257.70" width="2.19" height="1.49" fill="#ffe2da"/>
<rect x="428.12" y="173.99" width="2.19" height="1.49" fill="#ffe2da"/>
<rect x="434.68" y="263.68" width="2.19" height="1.49" fill="#ffe2da"/>
<rect x="436.86" y="271.16" width="2.19" height="1.49" fill="#ffe2da"/>
<rect x="441.24" y="166.51" width="2.19" height="1.49" fill="#ffe2da"/>
<rect x="445.61" y="165.02" width="2.19" height="1.49" fill="#ffe2da"/>
<rect x="447.80" y="226.31" width="2.19" height="1.49" fill="#ffe2da"/>
<rect x="449.99" y="148.58" width="2.19" height="1.49" fill="#ffe2da"/>
<rect x="452.17" y="115.69" width="2.19" height="1.49" fill="#ffe2da"/>
<rect x="460.92" y="145.59" width="2.19" height="1.49" fill="#ffe2da"/>
<rect x="465.29" y="168.01" width="2.19" height="1.49" fill="#ffe2da"/>
<rect x="467.48" y="109.71" width="2.19" height="1.49" fill="#ffe2da"/>
<rect x="467.48" y="218.84" width="2.19" height="1.49" fill="#ffe2da"/>
<rect x="489.35" y="199.40" width="2.19" height="1.49" fill="#ffe2da"/>
<rect x="495.91" y="232.29" width="2.19" height="1.49" fill="#ffe2da"/>
<rect x="500.29" y="102.23" width="2.19" height="1.49" fill="#ffe2da"/>
<rect x="502.47" y="115.69" width="2.19" height="1.49" fill="#ffe2da"/>
<rect x="506.85" y="236.77" width="2.19" height="1.49" fill="#ffe2da"/>
<rect x="511.22" y="156.05" width="2.19" height="1.49" fill="#ffe2da"/>
<rect x="511.22" y="159.04" width="2.19" height="1.49" fill="#ffe2da"/>
<rect x="513.41" y="145.59" width="2.19" height="1.49" fill="#ffe2da"/>
<rect x="513.41" y="218.84" width="2.19" height="1.49" fill="#ffe2da"/>
<rect x="513.41" y="259.20" width="2.19" height="1.49" fill="#ffe2da"/>
<rect x="515.60" y="193.42" width="2.19" height="1.49" fill="#ffe2da"/>
<rect x="515.60" y="254.71" width="2.19" height="1.49" fill="#ffe2da"/>
<rect x="517.78" y="112.70" width="2.19" height="1.49" fill="#ffe2da"/>
<rect x="517.78" y="120.17" width="2.19" height="1.49" fill="#ffe2da"/>
<rect x="522.16" y="244.25" width="2.19" height="1.49" fill="#ffe2da"/>
<rect x="526.53" y="123.16" width="2.19" height="1.49" fill="#ffe2da"/>
<rect x="530.91" y="239.76" width="2.19" height="1.49" fill="#ffe2da"/>
<rect x="530.91" y="244.25" width="2.19" height="1.49" fill="#ffe2da"/>
<rect x="535.28" y="154.56" width="2.19" height="1.49" fill="#ffe2da"/>
<rect x="539.65" y="117.18" width="2.19" height="1.49" fill="#ffe2da"/>
<rect x="539.65" y="260.69" width="2.19" height="1.49" fill="#ffe2da"/>
<rect x="539.65" y="268.17" width="2.19" height="1.49" fill="#ffe2da"/>
<rect x="541.84" y="272.65" width="2.19" height="1.49" fill="#ffe2da"/>
<rect x="548.40" y="105.22" width="2.19" height="1.49" fill="#ffe2da"/>
<rect x="548.40" y="247.24" width="2.19" height="1.49" fill="#ffe2da"/>
<rect x="550.59" y="220.33" width="2.19" height="1.49" fill="#ffe2da"/>
<rect x="552.78" y="200.90" width="2.19" height="1.49" fill="#ffe2da"/>
<rect x="552.78" y="206.88" width="2.19" height="1.49" fill="#ffe2da"/>
<rect x="552.78" y="247.24" width="2.19" height="1.49" fill="#ffe2da"/>
<rect x="554.96" y="136.62" width="2.19" height="1.49" fill="#ffe2da"/>
<rect x="557.15" y="250.23" width="2.19" height="1.49" fill="#ffe2da"/>
<rect x="559.34" y="256.21" width="2.19" height="1.49" fill="#ffe2da"/>
<rect x="565.90" y="127.65" width="2.19" height="1.49" fill="#ffe2da"/>
<rect x="565.90" y="173.99" width="2.19" height="1.49" fill="#ffe2da"/>
<rect x="574.65" y="197.91" width="2.19" height="1.49" fill="#ffe2da"/>
<rect x="574.65" y="212.86" width="2.19" height="1.49" fill="#ffe2da"/>
<rect x="574.65" y="214.35" width="2.19" height="1.49" fill="#ffe2da"/>
<rect x="574.65" y="217.34" width="2.19" height="1.49" fill="#ffe2da"/>
<rect x="576.83" y="163.52" width="2.19" height="1.49" fill="#ffe2da"/>
<rect x="581.21" y="206.88" width="2.19" height="1.49" fill="#ffe2da"/>
<rect x="583.40" y="260.69" width="2.19" height="1.49" fill="#ffe2da"/>
<rect x="587.77" y="235.28" width="2.19" height="1.49" fill="#ffe2da"/>
<rect x="589.96" y="115.69" width="2.19" height="1.49" fill="#ffe2da"/>
<rect x="589.96" y="121.67" width="2.19" height="1.49" fill="#ffe2da"/>
<rect x="592.14" y="121.67" width="2.19" height="1.49" fill="#ffe2da"/>
<rect x="592.14" y="126.15" width="2.19" height="1.49" fill="#ffe2da"/>
<rect x="592.14" y="135.12" width="2.19" height="1.49" fill="#ffe2da"/>
<rect x="592.14" y="203.89" width="2.19" height="1.49" fill="#ffe2da"/>
<rect x="592.14" y="284.61" width="2.19" height="1.49" fill="#ffe2da"/>
<rect x="598.71" y="156.05" width="2.19" height="1.49" fill="#ffe2da"/>
<rect x="598.71" y="157.54" width="2.19" height="1.49" fill="#ffe2da"/>
<rect x="605.27" y="205.38" width="2.19" height="1.49" fill="#ffe2da"/>
<rect x="609.64" y="221.83" width="2.19" height="1.49" fill="#ffe2da"/>
<rect x="611.83" y="194.92" width="2.19" height="1.49" fill="#ffe2da"/>
<rect x="618.39" y="159.04" width="2.19" height="1.49" fill="#ffe2da"/>
<rect x="622.76" y="211.36" width="2.19" height="1.49" fill="#ffe2da"/>
<rect x="629.32" y="139.61" width="2.19" height="1.49" fill="#ffe2da"/>
<rect x="629.32" y="283.12" width="2.19" height="1.49" fill="#ffe2da"/>
<rect x="633.70" y="141.10" width="2.19" height="1.49" fill="#ffe2da"/>
<rect x="633.70" y="236.77" width="2.19" height="1.49" fill="#ffe2da"/>
<rect x="635.88" y="259.20" width="2.19" height="1.49" fill="#ffe2da"/>
<rect x="644.63" y="188.94" width="2.19" height="1.49" fill="#ffe2da"/>
<rect x="644.63" y="208.37" width="2.19" height="1.49" fill="#ffe2da"/>
<rect x="644.63" y="217.34" width="2.19" height="1.49" fill="#ffe2da"/>
<rect x="651.19" y="272.65" width="2.19" height="1.49" fill="#ffe2da"/>
<rect x="653.38" y="154.56" width="2.19" height="1.49" fill="#ffe2da"/>
<rect x="655.57" y="235.28" width="2.19" height="1.49" fill="#ffe2da"/>
<rect x="662.13" y="115.69" width="2.19" height="1.49" fill="#ffe2da"/>
<rect x="664.32" y="120.17" width="2.19" height="1.49" fill="#ffe2da"/>
<rect x="664.32" y="157.54" width="2.19" height="1.49" fill="#ffe2da"/>
<rect x="664.32" y="235.28" width="2.19" height="1.49" fill="#ffe2da"/>
<rect x="670.88" y="248.73" width="2.19" height="1.49" fill="#ffe2da"/>
<rect x="673.06" y="254.71" width="2.19" height="1.49" fill="#ffe2da"/>
<rect x="675.25" y="236.77" width="2.19" height="1.49" fill="#ffe2da"/>
<rect x="675.25" y="268.17" width="2.19" height="1.49" fill="#ffe2da"/>
<rect x="677.44" y="254.71" width="2.19" height="1.49" fill="#ffe2da"/>
<rect x="681.81" y="181.46" width="2.19" height="1.49" fill="#ffe2da"/>
<rect x="380.00" y="37.95" width="2.19" height="1.49" fill="#ffe2da"/>
<rect x="382.19" y="30.48" width="2.19" height="1.49" fill="#ffe2da"/>
<rect x="399.68" y="61.87" width="2.19" height="1.49" fill="#ffe2da"/>
<rect x="401.87" y="33.47" width="2.19" height="1.49" fill="#ffe2da"/>
<rect x="412.81" y="66.36" width="2.19" height="1.49" fill="#ffe2da"/>
<rect x="417.18" y="73.83" width="2.19" height="1.49" fill="#ffe2da"/>
<rect x="419.37" y="25.99" width="2.19" height="1.49" fill="#ffe2da"/>
<rect x="380.00" y="93.26" width="2.19" height="1.49" fill="#ffe2da"/>
<rect x="380.00" y="202.39" width="2.19" height="1.49" fill="#ffe2da"/>
<rect x="380.00" y="235.28" width="2.19" height="1.49" fill="#ffe2da"/>
<rect x="380.00" y="250.23" width="2.19" height="1.49" fill="#ffe2da"/>
<rect x="382.19" y="84.30" width="2.19" height="1.49" fill="#ffe2da"/>
<rect x="382.19" y="96.25" width="2.19" height="1.49" fill="#ffe2da"/>
<rect x="382.19" y="111.20" width="2.19" height="1.49" fill="#ffe2da"/>
<rect x="382.19" y="147.08" width="2.19" height="1.49" fill="#ffe2da"/>
<rect x="382.19" y="184.45" width="2.19" height="1.49" fill="#ffe2da"/>
<rect x="382.19" y="215.85" width="2.19" height="1.49" fill="#ffe2da"/>
<rect x="382.19" y="217.34" width="2.19" height="1.49" fill="#ffe2da"/>
<rect x="382.19" y="253.22" width="2.19" height="1.49" fill="#ffe2da"/>
<rect x="384.37" y="127.65" width="2.19" height="1.49" fill="#ffe2da"/>
<rect x="384.37" y="147.08" width="2.19" height="1.49" fill="#ffe2da"/>
<rect x="384.37" y="175.48" width="2.19" height="1.49" fill="#ffe2da"/>
<rect x="384.37" y="197.91" width="2.19" height="1.49" fill="#ffe2da"/>
<rect x="384.37" y="217.34" width="2.19" height="1.49" fill="#ffe2da"/>
<rect x="384.37" y="235.28" width="2.19" height="1.49" fill="#ffe2da"/>
<rect x="384.37" y="263.68" width="2.19" height="1.49" fill="#ffe2da"/>
<rect x="386.56" y="81.31" width="2.19" height="1.49" fill="#ffe2da"/>
<rect x="386.56" y="106.72" width="2.19" height="1.49" fill="#ffe2da"/>
<rect x="386.56" y="123.16" width="2.19" height="1.49" fill="#ffe2da"/>
<rect x="386.56" y="130.64" width="2.19" height="1.49" fill="#ffe2da"/>
<rect x="386.56" y="136.62" width="2.19" height="1.49" fill="#ffe2da"/>
<rect x="386.56" y="138.11" width="2.19" height="1.49" fill="#ffe2da"/>
<rect x="386.56" y="151.57" width="2.19" height="1.49" fill="#ffe2da"/>
<rect x="386.56" y="168.01" width="2.19" height="1.49" fill="#ffe2da"/>
<rect x="386.56" y="173.99" width="2.19" height="1.49" fill="#ffe2da"/>
<rect x="386.56" y="181.46" width="2.19" height="1.49" fill="#ffe2da"/>
<rect x="386.56" y="193.42" width="2.19" height="1.49" fill="#ffe2da"/>
<rect x="386.56" y="202.39" width="2.19" height="1.49" fill="#ffe2da"/>
<rect x="386.56" y="211.36" width="2.19" height="1.49" fill="#ffe2da"/>
<rect x="386.56" y="226.31" width="2.19" height="1.49" fill="#ffe2da"/>
<rect x="386.56" y="227.80" width="2.19" height="1.49" fill="#ffe2da"/>
<rect x="386.56" y="238.27" width="2.19" height="1.49" fill="#ffe2da"/>
<rect x="386.56" y="241.26" width="2.19" height="1.49" fill="#ffe2da"/>
<rect x="386.56" y="259.20" width="2.19" height="1.49" fill="#ffe2da"/>
<rect x="386.56" y="272.65" width="2.19" height="1.49" fill="#ffe2da"/>
<rect x="386.56" y="280.13" width="2.19" height="1.49" fill="#ffe2da"/>
<rect x="388.75" y="100.74" width="2.19" height="1.49" fill="#ffe2da"/>
<rect x="388.75" y="175.48" width="2.19" height="1.49" fill="#ffe2da"/>
<rect x="388.75" y="190.43" width="2.19" height="1.49" fill="#ffe2da"/>
<rect x="388.75" y="236.77" width="2.19" height="1.49" fill="#ffe2da"/>
<rect x="388.75" y="259.20" width="2.19" height="1.49" fill="#ffe2da"/>
<rect x="390.94" y="90.28" width="2.19" height="1.49" fill="#ffe2da"/>
<rect x="390.94" y="106.72" width="2.19" height="1.49" fill="#ffe2da"/>
<rect x="390.94" y="159.04" width="2.19" height="1.49" fill="#ffe2da"/>
<rect x="390.94" y="166.51" width="2.19" height="1.49" fill="#ffe2da"/>
<rect x="390.94" y="169.50" width="2.19" height="1.49" fill="#ffe2da"/>
<rect x="390.94" y="206.88" width="2.19" height="1.49" fill="#ffe2da"/>
<rect x="390.94" y="217.34" width="2.19" height="1.49" fill="#ffe2da"/>
<rect x="390.94" y="226.31" width="2.19" height="1.49" fill="#ffe2da"/>
<rect x="390.94" y="235.28" width="2.19" height="1.49" fill="#ffe2da"/>
<rect x="390.94" y="256.21" width="2.19" height="1.49" fill="#ffe2da"/>
<rect x="393.12" y="99.24" width="2.19" height="1.49" fill="#ffe2da"/>
<rect x="393.12" y="106.72" width="2.19" height="1.49" fill="#ffe2da"/>
<rect x="393.12" y="148.58" width="2.19" height="1.49" fill="#ffe2da"/>
<rect x="393.12" y="196.41" width="2.19" height="1.49" fill="#ffe2da"/>
<rect x="393.12" y="253.22" width="2.19" height="1.49" fill="#ffe2da"/>
<rect x="393.12" y="268.17" width="2.19" height="1.49" fill="#ffe2da"/>
<rect x="395.31" y="81.31" width="2.19" height="1.49" fill="#ffe2da"/>
<rect x="395.31" y="106.72" width="2.19" height="1.49" fill="#ffe2da"/>
<rect x="395.31" y="112.70" width="2.19" height="1.49" fill="#ffe2da"/>
<rect x="395.31" y="135.12" width="2.19" height="1.49" fill="#ffe2da"/>
<rect x="395.31" y="150.07" width="2.19" height="1.49" fill="#ffe2da"/>
<rect x="395.31" y="181.46" width="2.19" height="1.49" fill="#ffe2da"/>
<rect x="395.31" y="182.96" width="2.19" height="1.49" fill="#ffe2da"/>
<rect x="395.31" y="286.11" width="2.19" height="1.49" fill="#ffe2da"/>
<rect x="397.50" y="133.63" width="2.19" height="1.49" fill="#ffe2da"/>
<rect x="397.50" y="150.07" width="2.19" height="1.49" fill="#ffe2da"/>
<rect x="397.50" y="162.03" width="2.19" height="1.49" fill="#ffe2da"/>
<rect x="397.50" y="171.00" width="2.19" height="1.49" fill="#ffe2da"/>
<rect x="397.50" y="194.92" width="2.19" height="1.49" fill="#ffe2da"/>
<rect x="397.50" y="203.89" width="2.19" height="1.49" fill="#ffe2da"/>
<rect x="397.50" y="205.38" width="2.19" height="1.49" fill="#ffe2da"/>
<rect x="397.50" y="211.36" width="2.19" height="1.49" fill="#ffe2da"/>
<rect x="397.50" y="242.75" width="2.19" height="1.49" fill="#ffe2da"/>
<rect x="397.50" y="259.20" width="2.19" height="1.49" fill="#ffe2da"/>
<rect x="397.50" y="265.18" width="2.19" height="1.49" fill="#ffe2da"/>
<rect x="397.50" y="268.17" width="2.19" height="1.49" fill="#ffe2da"/>
<rect x="397.50" y="272.65" width="2.19" height="1.49" fill="#ffe2da"/>
<rect x="399.68" y="123.16" width="2.19" height="1.49" fill="#ffe2da"/>
<rect x="399.68" y="135.12" width="2.19" height="1.49" fill="#ffe2da"/>
<rect x="399.68" y="169.50" width="2.19" height="1.49" fill="#ffe2da"/>
<rect x="399.68" y="178.47" width="2.19" height="1.49" fill="#ffe2da"/>
<rect x="399.68" y="196.41" width="2.19" height="1.49" fill="#ffe2da"/>
<rect x="399.68" y="233.78" width="2.19" height="1.49" fill="#ffe2da"/>
<rect x="399.68" y="253.22" width="2.19" height="1.49" fill="#ffe2da"/>
<rect x="401.87" y="115.69" width="2.19" height="1.49" fill="#ffe2da"/>
<rect x="401.87" y="127.65" width="2.19" height="1.49" fill="#ffe2da"/>
<rect x="401.87" y="142.60" width="2.19" height="1.49" fill="#ffe2da"/>
<rect x="401.87" y="165.02" width="2.19" height="1.49" fill="#ffe2da"/>
<rect x="401.87" y="168.01" width="2.19" height="1.49" fill="#ffe2da"/>
<rect x="401.87" y="178.47" width="2.19" height="1.49" fill="#ffe2da"/>
<rect x="401.87" y="184.45" width="2.19" height="1.49" fill="#ffe2da"/>
<rect x="401.87" y="185.95" width="2.19" height="1.49" fill="#ffe2da"/>
<rect x="401.87" y="203.89" width="2.19" height="1.49" fill="#ffe2da"/>
<rect x="401.87" y="212.86" width="2.19" height="1.49" fill="#ffe2da"/>
<rect x="401.87" y="214.35" width="2.19" height="1.49" fill="#ffe2da"/>
<rect x="401.87" y="218.84" width="2.19" height="1.49" fill="#ffe2da"/>
<rect x="401.87" y="253.22" width="2.19" height="1.49" fill="#ffe2da"/>
<rect x="401.87" y="275.64" width="2.19" height="1.49" fill="#ffe2da"/>
<rect x="401.87" y="277.14" width="2.19" height="1.49" fill="#ffe2da"/>
<rect x="404.06" y="88.78" width="2.19" height="1.49" fill="#ffe2da"/>
<rect x="404.06" y="114.19" width="2.19" height="1.49" fill="#ffe2da"/>
<rect x="404.06" y="127.65" width="2.19" height="1.49" fill="#ffe2da"/>
<rect x="404.06" y="132.13" width="2.19" height="1.49" fill="#ffe2da"/>
<rect x="404.06" y="265.18" width="2.19" height="1.49" fill="#ffe2da"/>
<rect x="406.24" y="99.24" width="2.19" height="1.49" fill="#ffe2da"/>
<rect x="406.24" y="199.40" width="2.19" height="1.49" fill="#ffe2da"/>
<rect x="406.24" y="212.86" width="2.19" height="1.49" fill="#ffe2da"/>
<rect x="406.24" y="217.34" width="2.19" height="1.49" fill="#ffe2da"/>
<rect x="408.43" y="148.58" width="2.19" height="1.49" fill="#ffe2da"/>
<rect x="408.43" y="168.01" width="2.19" height="1.49" fill="#ffe2da"/>
<rect x="408.43" y="191.93" width="2.19" height="1.49" fill="#ffe2da"/>
<rect x="408.43" y="265.18" width="2.19" height="1.49" fill="#ffe2da"/>
<rect x="408.43" y="275.64" width="2.19" height="1.49" fill="#ffe2da"/>
<rect x="410.62" y="90.28" width="2.19" height="1.49" fill="#ffe2da"/>
<rect x="410.62" y="103.73" width="2.19" height="1.49" fill="#ffe2da"/>
<rect x="410.62" y="106.72" width="2.19" height="1.49" fill="#ffe2da"/>
<rect x="410.62" y="156.05" width="2.19" height="1.49" fill="#ffe2da"/>
<rect x="410.62" y="162.03" width="2.19" height="1.49" fill="#ffe2da"/>
<rect x="410.62" y="168.01" width="2.19" height="1.49" fill="#ffe2da"/>
<rect x="410.62" y="211.36" width="2.19" height="1.49" fill="#ffe2da"/>
<rect x="410.62" y="286.11" width="2.19" height="1.49" fill="#ffe2da"/>
<rect x="412.81" y="99.24" width="2.19" height="1.49" fill="#ffe2da"/>
<rect x="412.81" y="102.23" width="2.19" height="1.49" fill="#ffe2da"/>
<rect x="412.81" y="117.18" width="2.19" height="1.49" fill="#ffe2da"/>
<rect x="412.81" y="159.04" width="2.19" height="1.49" fill="#ffe2da"/>
<rect x="412.81" y="178.47" width="2.19" height="1.49" fill="#ffe2da"/>
<rect x="412.81" y="221.83" width="2.19" height="1.49" fill="#ffe2da"/>
<rect x="412.81" y="224.81" width="2.19" height="1.49" fill="#ffe2da"/>
<rect x="412.81" y="227.80" width="2.19" height="1.49" fill="#ffe2da"/>
<rect x="412.81" y="229.30" width="2.19" height="1.49" fill="#ffe2da"/>
<rect x="414.99" y="81.31" width="2.19" height="1.49" fill="#ffe2da"/>
<rect x="414.99" y="108.21" width="2.19" height="1.49" fill="#ffe2da"/>
<rect x="414.99" y="115.69" width="2.19" height="1.49" fill="#ffe2da"/>
<rect x="414.99" y="138.11" width="2.19" height="1.49" fill="#ffe2da"/>
<rect x="414.99" y="173.99" width="2.19" height="1.49" fill="#ffe2da"/>
<rect x="414.99" y="176.98" width="2.19" height="1.49" fill="#ffe2da"/>
<rect x="417.18" y="253.22" width="2.19" height="1.49" fill="#ffe2da"/>
<rect x="417.18" y="263.68" width="2.19" height="1.49" fill="#ffe2da"/>
<rect x="419.37" y="87.29" width="2.19" height="1.49" fill="#ffe2da"/>
<rect x="419.37" y="212.86" width="2.19" height="1.49" fill="#ffe2da"/>
<rect x="419.37" y="236.77" width="2.19" height="1.49" fill="#ffe2da"/>
<rect x="419.37" y="275.64" width="2.19" height="1.49" fill="#ffe2da"/>
<rect x="421.55" y="123.16" width="2.19" height="1.49" fill="#ffe2da"/>
<rect x="421.55" y="129.14" width="2.19" height="1.49" fill="#ffe2da"/>
<rect x="421.55" y="199.40" width="2.19" height="1.49" fill="#ffe2da"/>
<rect x="421.55" y="274.15" width="2.19" height="1.49" fill="#ffe2da"/>
<rect x="419.37" y="97.75" width="2.19" height="1.49" fill="#ffe2da"/>
<rect x="419.37" y="106.72" width="2.19" height="1.49" fill="#ffe2da"/>
<rect x="419.37" y="182.96" width="2.19" height="1.49" fill="#ffe2da"/>
<rect x="421.55" y="90.28" width="2.19" height="1.49" fill="#ffe2da"/>
<rect x="421.55" y="94.76" width="2.19" height="1.49" fill="#ffe2da"/>
<rect x="421.55" y="106.72" width="2.19" height="1.49" fill="#ffe2da"/>
<rect x="421.55" y="117.18" width="2.19" height="1.49" fill="#ffe2da"/>
<rect x="421.55" y="151.57" width="2.19" height="1.49" fill="#ffe2da"/>
<rect x="421.55" y="171.00" width="2.19" height="1.49" fill="#ffe2da"/>
<rect x="421.55" y="173.99" width="2.19" height="1.49" fill="#ffe2da"/>
<rect x="421.55" y="191.93" width="2.19" height="1.49" fill="#ffe2da"/>
<rect x="421.55" y="200.90" width="2.19" height="1.49" fill="#ffe2da"/>
<rect x="421.55" y="209.87" width="2.19" height="1.49" fill="#ffe2da"/>
<rect x="421.55" y="224.81" width="2.19" height="1.49" fill="#ffe2da"/>
<rect x="421.55" y="227.80" width="2.19" height="1.49" fill="#ffe2da"/>
<rect x="421.55" y="247.24" width="2.19" height="1.49" fill="#ffe2da"/>
<rect x="421.55" y="260.69" width="2.19" height="1.49" fill="#ffe2da"/>
<rect x="421.55" y="265.18" width="2.19" height="1.49" fill="#ffe2da"/>
<rect x="421.55" y="269.66" width="2.19" height="1.49" fill="#ffe2da"/>
<rect x="421.55" y="277.14" width="2.19" height="1.49" fill="#ffe2da"/>
<rect x="421.55" y="284.61" width="2.19" height="1.49" fill="#ffe2da"/>
<rect x="423.74" y="49.91" width="2.19" height="1.49" fill="#ffe2da"/>
<rect x="423.74" y="54.40" width="2.19" height="1.49" fill="#ffe2da"/>
<rect x="423.74" y="70.84" width="2.19" height="1.49" fill="#ffe2da"/>
<rect x="423.74" y="79.81" width="2.19" height="1.49" fill="#ffe2da"/>
<rect x="430.30" y="28.98" width="2.19" height="1.49" fill="#ffe2da"/>
<rect x="430.30" y="30.48" width="2.19" height="1.49" fill="#ffe2da"/>
<rect x="432.49" y="31.97" width="2.19" height="1.49" fill="#ffe2da"/>
<rect x="432.49" y="49.91" width="2.19" height="1.49" fill="#ffe2da"/>
<rect x="432.49" y="60.38" width="2.19" height="1.49" fill="#ffe2da"/>
<rect x="432.49" y="75.33" width="2.19" height="1.49" fill="#ffe2da"/>
<rect x="436.86" y="60.38" width="2.19" height="1.49" fill="#ffe2da"/>
<rect x="439.05" y="28.98" width="2.19" height="1.49" fill="#ffe2da"/>
<rect x="439.05" y="42.44" width="2.19" height="1.49" fill="#ffe2da"/>
<rect x="439.05" y="54.40" width="2.19" height="1.49" fill="#ffe2da"/>
<rect x="439.05" y="66.36" width="2.19" height="1.49" fill="#ffe2da"/>
<rect x="439.05" y="78.32" width="2.19" height="1.49" fill="#ffe2da"/>
<rect x="445.61" y="78.32" width="2.19" height="1.49" fill="#ffe2da"/>
<rect x="447.80" y="27.49" width="2.19" height="1.49" fill="#ffe2da"/>
<rect x="447.80" y="46.92" width="2.19" height="1.49" fill="#ffe2da"/>
<rect x="447.80" y="78.32" width="2.19" height="1.49" fill="#ffe2da"/>
<rect x="449.99" y="36.46" width="2.19" height="1.49" fill="#ffe2da"/>
<rect x="449.99" y="58.88" width="2.19" height="1.49" fill="#ffe2da"/>
<rect x="449.99" y="66.36" width="2.19" height="1.49" fill="#ffe2da"/>
<rect x="452.17" y="37.95" width="2.19" height="1.49" fill="#ffe2da"/>
<rect x="452.17" y="46.92" width="2.19" height="1.49" fill="#ffe2da"/>
<rect x="452.17" y="67.85" width="2.19" height="1.49" fill="#ffe2da"/>
<rect x="452.17" y="75.33" width="2.19" height="1.49" fill="#ffe2da"/>
<rect x="454.36" y="73.83" width="2.19" height="1.49" fill="#ffe2da"/>
<rect x="454.36" y="75.33" width="2.19" height="1.49" fill="#ffe2da"/>
<rect x="456.55" y="63.37" width="2.19" height="1.49" fill="#ffe2da"/>
<rect x="456.55" y="67.85" width="2.19" height="1.49" fill="#ffe2da"/>
<rect x="458.73" y="37.95" width="2.19" height="1.49" fill="#ffe2da"/>
<rect x="460.92" y="36.46" width="2.19" height="1.49" fill="#ffe2da"/>
<rect x="460.92" y="64.86" width="2.19" height="1.49" fill="#ffe2da"/>
<rect x="460.92" y="75.33" width="2.19" height="1.49" fill="#ffe2da"/>
<rect x="463.11" y="70.84" width="2.19" height="1.49" fill="#ffe2da"/>
<rect x="465.29" y="37.95" width="2.19" height="1.49" fill="#ffe2da"/>
<rect x="465.29" y="57.39" width="2.19" height="1.49" fill="#ffe2da"/>
<rect x="467.48" y="30.48" width="2.19" height="1.49" fill="#ffe2da"/>
<rect x="467.48" y="34.96" width="2.19" height="1.49" fill="#ffe2da"/>
<rect x="467.48" y="43.93" width="2.19" height="1.49" fill="#ffe2da"/>
<rect x="467.48" y="52.90" width="2.19" height="1.49" fill="#ffe2da"/>
<rect x="467.48" y="69.35" width="2.19" height="1.49" fill="#ffe2da"/>
<rect x="467.48" y="79.81" width="2.19" height="1.49" fill="#ffe2da"/>
<rect x="469.67" y="30.48" width="2.19" height="1.49" fill="#ffe2da"/>
<rect x="471.86" y="31.97" width="2.19" height="1.49" fill="#ffe2da"/>
<rect x="474.04" y="30.48" width="2.19" height="1.49" fill="#ffe2da"/>
<rect x="474.04" y="36.46" width="2.19" height="1.49" fill="#ffe2da"/>
<rect x="474.04" y="57.39" width="2.19" height="1.49" fill="#ffe2da"/>
<rect x="474.04" y="60.38" width="2.19" height="1.49" fill="#ffe2da"/>
<rect x="476.23" y="54.40" width="2.19" height="1.49" fill="#ffe2da"/>
<rect x="502.47" y="25.99" width="2.19" height="1.49" fill="#ffe2da"/>
<rect x="506.85" y="24.50" width="2.19" height="1.49" fill="#ffe2da"/>
<rect x="513.41" y="25.99" width="2.19" height="1.49" fill="#ffe2da"/>
<rect x="541.84" y="24.50" width="2.19" height="1.49" fill="#ffe2da"/>
<rect x="561.53" y="24.50" width="2.19" height="1.49" fill="#ffe2da"/>
<rect x="561.53" y="25.99" width="2.19" height="1.49" fill="#ffe2da"/>
<rect x="616.20" y="25.99" width="2.19" height="1.49" fill="#ffe2da"/>
<rect x="618.39" y="25.99" width="2.19" height="1.49" fill="#ffe2da"/>
<rect x="622.76" y="24.50" width="2.19" height="1.49" fill="#ffe2da"/>
<rect x="629.32" y="24.50" width="2.19" height="1.49" fill="#ffe2da"/>
<rect x="655.57" y="24.50" width="2.19" height="1.49" fill="#ffe2da"/>
<rect x="681.81" y="25.99" width="2.19" height="1.49" fill="#ffe2da"/>
<rect x="428.12" y="72.34" width="2.19" height="1.49" fill="#fdc0b0"/>
<rect x="439.05" y="69.35" width="2.19" height="1.49" fill="#fdc0b0"/>
<rect x="456.55" y="46.92" width="2.19" height="1.49" fill="#fdc0b0"/>
<rect x="467.48" y="51.41" width="2.19" height="1.49" fill="#fdc0b0"/>
<rect x="467.48" y="76.82" width="2.19" height="1.49" fill="#fdc0b0"/>
<rect x="471.86" y="57.39" width="2.19" height="1.49" fill="#fdc0b0"/>
<rect x="480.60" y="76.82" width="2.19" height="1.49" fill="#fdc0b0"/>
<rect x="489.35" y="90.28" width="2.19" height="1.49" fill="#fdc0b0"/>
<rect x="498.10" y="54.40" width="2.19" height="1.49" fill="#fdc0b0"/>
<rect x="550.59" y="25.99" width="2.19" height="1.49" fill="#fdc0b0"/>
<rect x="554.96" y="90.28" width="2.19" height="1.49" fill="#fdc0b0"/>
<rect x="572.46" y="31.97" width="2.19" height="1.49" fill="#fdc0b0"/>
<rect x="574.65" y="87.29" width="2.19" height="1.49" fill="#fdc0b0"/>
<rect x="576.83" y="42.44" width="2.19" height="1.49" fill="#fdc0b0"/>
<rect x="585.58" y="66.36" width="2.19" height="1.49" fill="#fdc0b0"/>
<rect x="592.14" y="36.46" width="2.19" height="1.49" fill="#fdc0b0"/>
<rect x="592.14" y="96.25" width="2.19" height="1.49" fill="#fdc0b0"/>
<rect x="624.95" y="34.96" width="2.19" height="1.49" fill="#fdc0b0"/>
<rect x="624.95" y="36.46" width="2.19" height="1.49" fill="#fdc0b0"/>
<rect x="631.51" y="70.84" width="2.19" height="1.49" fill="#fdc0b0"/>
<rect x="640.26" y="52.90" width="2.19" height="1.49" fill="#fdc0b0"/>
<rect x="644.63" y="55.89" width="2.19" height="1.49" fill="#fdc0b0"/>
<rect x="649.01" y="64.86" width="2.19" height="1.49" fill="#fdc0b0"/>
<rect x="651.19" y="61.87" width="2.19" height="1.49" fill="#fdc0b0"/>
<rect x="679.63" y="73.83" width="2.19" height="1.49" fill="#fdc0b0"/>
<rect x="432.49" y="281.62" width="2.19" height="1.49" fill="#fdc0b0"/>
<rect x="436.86" y="176.98" width="2.19" height="1.49" fill="#fdc0b0"/>
<rect x="439.05" y="106.72" width="2.19" height="1.49" fill="#fdc0b0"/>
<rect x="439.05" y="194.92" width="2.19" height="1.49" fill="#fdc0b0"/>
<rect x="441.24" y="187.44" width="2.19" height="1.49" fill="#fdc0b0"/>
<rect x="445.61" y="238.27" width="2.19" height="1.49" fill="#fdc0b0"/>
<rect x="452.17" y="112.70" width="2.19" height="1.49" fill="#fdc0b0"/>
<rect x="454.36" y="185.95" width="2.19" height="1.49" fill="#fdc0b0"/>
<rect x="456.55" y="205.38" width="2.19" height="1.49" fill="#fdc0b0"/>
<rect x="460.92" y="200.90" width="2.19" height="1.49" fill="#fdc0b0"/>
<rect x="460.92" y="238.27" width="2.19" height="1.49" fill="#fdc0b0"/>
<rect x="465.29" y="281.62" width="2.19" height="1.49" fill="#fdc0b0"/>
<rect x="467.48" y="126.15" width="2.19" height="1.49" fill="#fdc0b0"/>
<rect x="467.48" y="209.87" width="2.19" height="1.49" fill="#fdc0b0"/>
<rect x="474.04" y="230.79" width="2.19" height="1.49" fill="#fdc0b0"/>
<rect x="482.79" y="256.21" width="2.19" height="1.49" fill="#fdc0b0"/>
<rect x="487.17" y="105.22" width="2.19" height="1.49" fill="#fdc0b0"/>
<rect x="493.73" y="130.64" width="2.19" height="1.49" fill="#fdc0b0"/>
<rect x="493.73" y="191.93" width="2.19" height="1.49" fill="#fdc0b0"/>
<rect x="493.73" y="200.90" width="2.19" height="1.49" fill="#fdc0b0"/>
<rect x="498.10" y="256.21" width="2.19" height="1.49" fill="#fdc0b0"/>
<rect x="502.47" y="142.60" width="2.19" height="1.49" fill="#fdc0b0"/>
<rect x="502.47" y="254.71" width="2.19" height="1.49" fill="#fdc0b0"/>
<rect x="504.66" y="196.41" width="2.19" height="1.49" fill="#fdc0b0"/>
<rect x="504.66" y="226.31" width="2.19" height="1.49" fill="#fdc0b0"/>
<rect x="506.85" y="242.75" width="2.19" height="1.49" fill="#fdc0b0"/>
<rect x="509.04" y="145.59" width="2.19" height="1.49" fill="#fdc0b0"/>
<rect x="509.04" y="238.27" width="2.19" height="1.49" fill="#fdc0b0"/>
<rect x="511.22" y="169.50" width="2.19" height="1.49" fill="#fdc0b0"/>
<rect x="526.53" y="132.13" width="2.19" height="1.49" fill="#fdc0b0"/>
<rect x="535.28" y="151.57" width="2.19" height="1.49" fill="#fdc0b0"/>
<rect x="539.65" y="121.67" width="2.19" height="1.49" fill="#fdc0b0"/>
<rect x="539.65" y="144.09" width="2.19" height="1.49" fill="#fdc0b0"/>
<rect x="541.84" y="148.58" width="2.19" height="1.49" fill="#fdc0b0"/>
<rect x="546.22" y="129.14" width="2.19" height="1.49" fill="#fdc0b0"/>
<rect x="552.78" y="215.85" width="2.19" height="1.49" fill="#fdc0b0"/>
<rect x="557.15" y="194.92" width="2.19" height="1.49" fill="#fdc0b0"/>
<rect x="557.15" y="241.26" width="2.19" height="1.49" fill="#fdc0b0"/>
<rect x="561.53" y="109.71" width="2.19" height="1.49" fill="#fdc0b0"/>
<rect x="561.53" y="262.19" width="2.19" height="1.49" fill="#fdc0b0"/>
<rect x="565.90" y="181.46" width="2.19" height="1.49" fill="#fdc0b0"/>
<rect x="568.09" y="135.12" width="2.19" height="1.49" fill="#fdc0b0"/>
<rect x="570.27" y="108.21" width="2.19" height="1.49" fill="#fdc0b0"/>
<rect x="570.27" y="182.96" width="2.19" height="1.49" fill="#fdc0b0"/>
<rect x="581.21" y="266.67" width="2.19" height="1.49" fill="#fdc0b0"/>
<rect x="587.77" y="193.42" width="2.19" height="1.49" fill="#fdc0b0"/>
<rect x="589.96" y="130.64" width="2.19" height="1.49" fill="#fdc0b0"/>
<rect x="589.96" y="247.24" width="2.19" height="1.49" fill="#fdc0b0"/>
<rect x="592.14" y="154.56" width="2.19" height="1.49" fill="#fdc0b0"/>
<rect x="592.14" y="280.13" width="2.19" height="1.49" fill="#fdc0b0"/>
<rect x="598.71" y="202.39" width="2.19" height="1.49" fill="#fdc0b0"/>
<rect x="598.71" y="214.35" width="2.19" height="1.49" fill="#fdc0b0"/>
<rect x="600.89" y="239.76" width="2.19" height="1.49" fill="#fdc0b0"/>
<rect x="609.64" y="173.99" width="2.19" height="1.49" fill="#fdc0b0"/>
<rect x="609.64" y="218.84" width="2.19" height="1.49" fill="#fdc0b0"/>
<rect x="624.95" y="132.13" width="2.19" height="1.49" fill="#fdc0b0"/>
<rect x="629.32" y="194.92" width="2.19" height="1.49" fill="#fdc0b0"/>
<rect x="631.51" y="148.58" width="2.19" height="1.49" fill="#fdc0b0"/>
<rect x="631.51" y="208.37" width="2.19" height="1.49" fill="#fdc0b0"/>
<rect x="638.07" y="281.62" width="2.19" height="1.49" fill="#fdc0b0"/>
<rect x="642.45" y="115.69" width="2.19" height="1.49" fill="#fdc0b0"/>
<rect x="649.01" y="196.41" width="2.19" height="1.49" fill="#fdc0b0"/>
<rect x="649.01" y="245.74" width="2.19" height="1.49" fill="#fdc0b0"/>
<rect x="651.19" y="163.52" width="2.19" height="1.49" fill="#fdc0b0"/>
<rect x="655.57" y="229.30" width="2.19" height="1.49" fill="#fdc0b0"/>
<rect x="657.76" y="130.64" width="2.19" height="1.49" fill="#fdc0b0"/>
<rect x="659.94" y="221.83" width="2.19" height="1.49" fill="#fdc0b0"/>
<rect x="666.50" y="102.23" width="2.19" height="1.49" fill="#fdc0b0"/>
<rect x="677.44" y="129.14" width="2.19" height="1.49" fill="#fdc0b0"/>
<rect x="677.44" y="132.13" width="2.19" height="1.49" fill="#fdc0b0"/>
<rect x="677.44" y="247.24" width="2.19" height="1.49" fill="#fdc0b0"/>
<rect x="382.19" y="27.49" width="2.19" height="1.49" fill="#fdc0b0"/>
<rect x="382.19" y="54.40" width="2.19" height="1.49" fill="#fdc0b0"/>
<rect x="406.24" y="25.99" width="2.19" height="1.49" fill="#fdc0b0"/>
<rect x="421.55" y="75.33" width="2.19" height="1.49" fill="#fdc0b0"/>
<rect x="380.00" y="94.76" width="2.19" height="1.49" fill="#fdc0b0"/>
<rect x="380.00" y="97.75" width="2.19" height="1.49" fill="#fdc0b0"/>
<rect x="380.00" y="99.24" width="2.19" height="1.49" fill="#fdc0b0"/>
<rect x="380.00" y="115.69" width="2.19" height="1.49" fill="#fdc0b0"/>
<rect x="380.00" y="124.66" width="2.19" height="1.49" fill="#fdc0b0"/>
<rect x="380.00" y="221.83" width="2.19" height="1.49" fill="#fdc0b0"/>
<rect x="380.00" y="262.19" width="2.19" height="1.49" fill="#fdc0b0"/>
<rect x="382.19" y="102.23" width="2.19" height="1.49" fill="#fdc0b0"/>
<rect x="382.19" y="114.19" width="2.19" height="1.49" fill="#fdc0b0"/>
<rect x="382.19" y="162.03" width="2.19" height="1.49" fill="#fdc0b0"/>
<rect x="382.19" y="196.41" width="2.19" height="1.49" fill="#fdc0b0"/>
<rect x="382.19" y="197.91" width="2.19" height="1.49" fill="#fdc0b0"/>
<rect x="382.19" y="208.37" width="2.19" height="1.49" fill="#fdc0b0"/>
<rect x="382.19" y="221.83" width="2.19" height="1.49" fill="#fdc0b0"/>
<rect x="382.19" y="223.32" width="2.19" height="1.49" fill="#fdc0b0"/>
<rect x="382.19" y="235.28" width="2.19" height="1.49" fill="#fdc0b0"/>
<rect x="382.19" y="262.19" width="2.19" height="1.49" fill="#fdc0b0"/>
<rect x="382.19" y="274.15" width="2.19" height="1.49" fill="#fdc0b0"/>
<rect x="384.37" y="126.15" width="2.19" height="1.49" fill="#fdc0b0"/>
<rect x="384.37" y="182.96" width="2.19" height="1.49" fill="#fdc0b0"/>
<rect x="384.37" y="190.43" width="2.19" height="1.49" fill="#fdc0b0"/>
<rect x="384.37" y="205.38" width="2.19" height="1.49" fill="#fdc0b0"/>
<rect x="384.37" y="206.88" width="2.19" height="1.49" fill="#fdc0b0"/>
<rect x="384.37" y="274.15" width="2.19" height="1.49" fill="#fdc0b0"/>
<rect x="386.56" y="88.78" width="2.19" height="1.49" fill="#fdc0b0"/>
<rect x="386.56" y="118.68" width="2.19" height="1.49" fill="#fdc0b0"/>
<rect x="386.56" y="126.15" width="2.19" height="1.49" fill="#fdc0b0"/>
<rect x="386.56" y="135.12" width="2.19" height="1.49" fill="#fdc0b0"/>
<rect x="386.56" y="142.60" width="2.19" height="1.49" fill="#fdc0b0"/>
<rect x="386.56" y="144.09" width="2.19" height="1.49" fill="#fdc0b0"/>
<rect x="386.56" y="157.54" width="2.19" height="1.49" fill="#fdc0b0"/>
<rect x="386.56" y="200.90" width="2.19" height="1.49" fill="#fdc0b0"/>
<rect x="386.56" y="265.18" width="2.19" height="1.49" fill="#fdc0b0"/>
<rect x="386.56" y="278.63" width="2.19" height="1.49" fill="#fdc0b0"/>
<rect x="388.75" y="90.28" width="2.19" height="1.49" fill="#fdc0b0"/>
<rect x="388.75" y="115.69" width="2.19" height="1.49" fill="#fdc0b0"/>
<rect x="388.75" y="130.64" width="2.19" height="1.49" fill="#fdc0b0"/>
<rect x="388.75" y="138.11" width="2.19" height="1.49" fill="#fdc0b0"/>
<rect x="388.75" y="185.95" width="2.19" height="1.49" fill="#fdc0b0"/>
<rect x="388.75" y="212.86" width="2.19" height="1.49" fill="#fdc0b0"/>
<rect x="388.75" y="220.33" width="2.19" height="1.49" fill="#fdc0b0"/>
<rect x="388.75" y="260.69" width="2.19" height="1.49" fill="#fdc0b0"/>
<rect x="388.75" y="265.18" width="2.19" height="1.49" fill="#fdc0b0"/>
<rect x="388.75" y="278.63" width="2.19" height="1.49" fill="#fdc0b0"/>
<rect x="390.94" y="94.76" width="2.19" height="1.49" fill="#fdc0b0"/>
<rect x="390.94" y="102.23" width="2.19" height="1.49" fill="#fdc0b0"/>
<rect x="390.94" y="145.59" width="2.19" height="1.49" fill="#fdc0b0"/>
<rect x="390.94" y="151.57" width="2.19" height="1.49" fill="#fdc0b0"/>
<rect x="390.94" y="156.05" width="2.19" height="1.49" fill="#fdc0b0"/>
<rect x="390.94" y="165.02" width="2.19" height="1.49" fill="#fdc0b0"/>
<rect x="390.94" y="202.39" width="2.19" height="1.49" fill="#fdc0b0"/>
<rect x="390.94" y="236.77" width="2.19" height="1.49" fill="#fdc0b0"/>
<rect x="390.94" y="239.76" width="2.19" height="1.49" fill="#fdc0b0"/>
<rect x="390.94" y="254.71" width="2.19" height="1.49" fill="#fdc0b0"/>
<rect x="390.94" y="274.15" width="2.19" height="1.49" fill="#fdc0b0"/>
<rect x="390.94" y="278.63" width="2.19" height="1.49" fill="#fdc0b0"/>
<rect x="390.94" y="286.11" width="2.19" height="1.49" fill="#fdc0b0"/>
<rect x="393.12" y="87.29" width="2.19" height="1.49" fill="#fdc0b0"/>
<rect x="393.12" y="88.78" width="2.19" height="1.49" fill="#fdc0b0"/>
<rect x="393.12" y="132.13" width="2.19" height="1.49" fill="#fdc0b0"/>
<rect x="393.12" y="138.11" width="2.19" height="1.49" fill="#fdc0b0"/>
<rect x="393.12" y="179.97" width="2.19" height="1.49" fill="#fdc0b0"/>
<rect x="393.12" y="220.33" width="2.19" height="1.49" fill="#fdc0b0"/>
<rect x="393.12" y="266.67" width="2.19" height="1.49" fill="#fdc0b0"/>
<rect x="395.31" y="96.25" width="2.19" height="1.49" fill="#fdc0b0"/>
<rect x="395.31" y="156.05" width="2.19" height="1.49" fill="#fdc0b0"/>
<rect x="395.31" y="162.03" width="2.19" height="1.49" fill="#fdc0b0"/>
<rect x="395.31" y="168.01" width="2.19" height="1.49" fill="#fdc0b0"/>
<rect x="395.31" y="250.23" width="2.19" height="1.49" fill="#fdc0b0"/>
<rect x="395.31" y="265.18" width="2.19" height="1.49" fill="#fdc0b0"/>
<rect x="395.31" y="268.17" width="2.19" height="1.49" fill="#fdc0b0"/>
<rect x="397.50" y="90.28" width="2.19" height="1.49" fill="#fdc0b0"/>
<rect x="397.50" y="106.72" width="2.19" height="1.49" fill="#fdc0b0"/>
<rect x="397.50" y="111.20" width="2.19" height="1.49" fill="#fdc0b0"/>
<rect x="397.50" y="114.19" width="2.19" height="1.49" fill="#fdc0b0"/>
<rect x="397.50" y="127.65" width="2.19" height="1.49" fill="#fdc0b0"/>
<rect x="397.50" y="153.06" width="2.19" height="1.49" fill="#fdc0b0"/>
<rect x="397.50" y="154.56" width="2.19" height="1.49" fill="#fdc0b0"/>
<rect x="397.50" y="156.05" width="2.19" height="1.49" fill="#fdc0b0"/>
<rect x="397.50" y="163.52" width="2.19" height="1.49" fill="#fdc0b0"/>
<rect x="397.50" y="166.51" width="2.19" height="1.49" fill="#fdc0b0"/>
<rect x="397.50" y="168.01" width="2.19" height="1.49" fill="#fdc0b0"/>
<rect x="397.50" y="175.48" width="2.19" height="1.49" fill="#fdc0b0"/>
<rect x="397.50" y="224.81" width="2.19" height="1.49" fill="#fdc0b0"/>
<rect x="397.50" y="235.28" width="2.19" height="1.49" fill="#fdc0b0"/>
<rect x="397.50" y="241.26" width="2.19" height="1.49" fill="#fdc0b0"/>
<rect x="397.50" y="245.74" width="2.19" height="1.49" fill="#fdc0b0"/>
<rect x="397.50" y="247.24" width="2.19" height="1.49" fill="#fdc0b0"/>
<rect x="397.50" y="248.73" width="2.19" height="1.49" fill="#fdc0b0"/>
<rect x="397.50" y="263.68" width="2.19" height="1.49" fill="#fdc0b0"/>
<rect x="399.68" y="102.23" width="2.19" height="1.49" fill="#fdc0b0"/>
<rect x="399.68" y="108.21" width="2.19" height="1.49" fill="#fdc0b0"/>
<rect x="399.68" y="111.20" width="2.19" height="1.49" fill="#fdc0b0"/>
<rect x="399.68" y="127.65" width="2.19" height="1.49" fill="#fdc0b0"/>
<rect x="399.68" y="132.13" width="2.19" height="1.49" fill="#fdc0b0"/>
<rect x="399.68" y="138.11" width="2.19" height="1.49" fill="#fdc0b0"/>
<rect x="399.68" y="147.08" width="2.19" height="1.49" fill="#fdc0b0"/>
<rect x="399.68" y="157.54" width="2.19" height="1.49" fill="#fdc0b0"/>
<rect x="399.68" y="179.97" width="2.19" height="1.49" fill="#fdc0b0"/>
<rect x="399.68" y="226.31" width="2.19" height="1.49" fill="#fdc0b0"/>
<rect x="399.68" y="229.30" width="2.19" height="1.49" fill="#fdc0b0"/>
<rect x="399.68" y="241.26" width="2.19" height="1.49" fill="#fdc0b0"/>
<rect x="399.68" y="254.71" width="2.19" height="1.49" fill="#fdc0b0"/>
<rect x="399.68" y="269.66" width="2.19" height="1.49" fill="#fdc0b0"/>
<rect x="399.68" y="280.13" width="2.19" height="1.49" fill="#fdc0b0"/>
<rect x="401.87" y="91.77" width="2.19" height="1.49" fill="#fdc0b0"/>
<rect x="401.87" y="97.75" width="2.19" height="1.49" fill="#fdc0b0"/>
<rect x="401.87" y="126.15" width="2.19" height="1.49" fill="#fdc0b0"/>
<rect x="401.87" y="145.59" width="2.19" height="1.49" fill="#fdc0b0"/>
<rect x="401.87" y="157.54" width="2.19" height="1.49" fill="#fdc0b0"/>
<rect x="401.87" y="163.52" width="2.19" height="1.49" fill="#fdc0b0"/>
<rect x="401.87" y="181.46" width="2.19" height="1.49" fill="#fdc0b0"/>
<rect x="401.87" y="193.42" width="2.19" height="1.49" fill="#fdc0b0"/>
<rect x="401.87" y="194.92" width="2.19" height="1.49" fill="#fdc0b0"/>
<rect x="401.87" y="215.85" width="2.19" height="1.49" fill="#fdc0b0"/>
<rect x="401.87" y="217.34" width="2.19" height="1.49" fill="#fdc0b0"/>
<rect x="401.87" y="224.81" width="2.19" height="1.49" fill="#fdc0b0"/>
<rect x="401.87" y="235.28" width="2.19" height="1.49" fill="#fdc0b0"/>
<rect x="401.87" y="239.76" width="2.19" height="1.49" fill="#fdc0b0"/>
<rect x="401.87" y="271.16" width="2.19" height="1.49" fill="#fdc0b0"/>
<rect x="401.87" y="274.15" width="2.19" height="1.49" fill="#fdc0b0"/>
<rect x="404.06" y="85.79" width="2.19" height="1.49" fill="#fdc0b0"/>
<rect x="404.06" y="130.64" width="2.19" height="1.49" fill="#fdc0b0"/>
<rect x="404.06" y="171.00" width="2.19" height="1.49" fill="#fdc0b0"/>
<rect x="404.06" y="179.97" width="2.19" height="1.49" fill="#fdc0b0"/>
<rect x="404.06" y="215.85" width="2.19" height="1.49" fill="#fdc0b0"/>
<rect x="404.06" y="236.77" width="2.19" height="1.49" fill="#fdc0b0"/>
<rect x="404.06" y="250.23" width="2.19" height="1.49" fill="#fdc0b0"/>
<rect x="404.06" y="256.21" width="2.19" height="1.49" fill="#fdc0b0"/>
<rect x="406.24" y="84.30" width="2.19" height="1.49" fill="#fdc0b0"/>
<rect x="406.24" y="156.05" width="2.19" height="1.49" fill="#fdc0b0"/>
<rect x="406.24" y="168.01" width="2.19" height="1.49" fill="#fdc0b0"/>
<rect x="406.24" y="181.46" width="2.19" height="1.49" fill="#fdc0b0"/>
<rect x="406.24" y="205.38" width="2.19" height="1.49" fill="#fdc0b0"/>
<rect x="406.24" y="244.25" width="2.19" height="1.49" fill="#fdc0b0"/>
<rect x="406.24" y="284.61" width="2.19" height="1.49" fill="#fdc0b0"/>
<rect x="408.43" y="102.23" width="2.19" height="1.49" fill="#fdc0b0"/>
<rect x="408.43" y="118.68" width="2.19" height="1.49" fill="#fdc0b0"/>
<rect x="408.43" y="136.62" width="2.19" height="1.49" fill="#fdc0b0"/>
<rect x="408.43" y="138.11" width="2.19" height="1.49" fill="#fdc0b0"/>
<rect x="408.43" y="182.96" width="2.19" height="1.49" fill="#fdc0b0"/>
<rect x="408.43" y="187.44" width="2.19" height="1.49" fill="#fdc0b0"/>
<rect x="408.43" y="205.38" width="2.19" height="1.49" fill="#fdc0b0"/>
<rect x="408.43" y="214.35" width="2.19" height="1.49" fill="#fdc0b0"/>
<rect x="408.43" y="271.16" width="2.19" height="1.49" fill="#fdc0b0"/>
<rect x="410.62" y="81.31" width="2.19" height="1.49" fill="#fdc0b0"/>
<rect x="410.62" y="154.56" width="2.19" height="1.49" fill="#fdc0b0"/>
<rect x="410.62" y="202.39" width="2.19" height="1.49" fill="#fdc0b0"/>
<rect x="410.62" y="245.74" width="2.19" height="1.49" fill="#fdc0b0"/>
<rect x="410.62" y="277.14" width="2.19" height="1.49" fill="#fdc0b0"/>
<rect x="412.81" y="81.31" width="2.19" height="1.49" fill="#fdc0b0"/>
<rect x="412.81" y="126.15" width="2.19" height="1.49" fill="#fdc0b0"/>
<rect x="412.81" y="130.64" width="2.19" height="1.49" fill="#fdc0b0"/>
<rect x="412.81" y="139.61" width="2.19" height="1.49" fill="#fdc0b0"/>
<rect x="412.81" y="150.07" width="2.19" height="1.49" fill="#fdc0b0"/>
<rect x="412.81" y="163.52" width="2.19" height="1.49" fill="#fdc0b0"/>
<rect x="412.81" y="171.00" width="2.19" height="1.49" fill="#fdc0b0"/>
<rect x="412.81" y="184.45" width="2.19" height="1.49" fill="#fdc0b0"/>
<rect x="412.81" y="226.31" width="2.19" height="1.49" fill="#fdc0b0"/>
<rect x="412.81" y="236.77" width="2.19" height="1.49" fill="#fdc0b0"/>
<rect x="412.81" y="281.62" width="2.19" height="1.49" fill="#fdc0b0"/>
<rect x="412.81" y="283.12" width="2.19" height="1.49" fill="#fdc0b0"/>
<rect x="414.99" y="82.80" width="2.19" height="1.49" fill="#fdc0b0"/>
<rect x="414.99" y="87.29" width="2.19" height="1.49" fill="#fdc0b0"/>
<rect x="414.99" y="211.36" width="2.19" height="1.49" fill="#fdc0b0"/>
<rect x="414.99" y="221.83" width="2.19" height="1.49" fill="#fdc0b0"/>
<rect x="414.99" y="232.29" width="2.19" height="1.49" fill="#fdc0b0"/>
<rect x="414.99" y="238.27" width="2.19" height="1.49" fill="#fdc0b0"/>
<rect x="417.18" y="215.85" width="2.19" height="1.49" fill="#fdc0b0"/>
<rect x="419.37" y="172.49" width="2.19" height="1.49" fill="#fdc0b0"/>
<rect x="419.37" y="179.97" width="2.19" height="1.49" fill="#fdc0b0"/>
<rect x="419.37" y="185.95" width="2.19" height="1.49" fill="#fdc0b0"/>
<rect x="419.37" y="188.94" width="2.19" height="1.49" fill="#fdc0b0"/>
<rect x="419.37" y="217.34" width="2.19" height="1.49" fill="#fdc0b0"/>
<rect x="419.37" y="230.79" width="2.19" height="1.49" fill="#fdc0b0"/>
<rect x="421.55" y="96.25" width="2.19" height="1.49" fill="#fdc0b0"/>
<rect x="421.55" y="99.24" width="2.19" height="1.49" fill="#fdc0b0"/>
<rect x="421.55" y="105.22" width="2.19" height="1.49" fill="#fdc0b0"/>
<rect x="421.55" y="126.15" width="2.19" height="1.49" fill="#fdc0b0"/>
<rect x="421.55" y="127.65" width="2.19" height="1.49" fill="#fdc0b0"/>
<rect x="421.55" y="150.07" width="2.19" height="1.49" fill="#fdc0b0"/>
<rect x="421.55" y="153.06" width="2.19" height="1.49" fill="#fdc0b0"/>
<rect x="421.55" y="172.49" width="2.19" height="1.49" fill="#fdc0b0"/>
<rect x="421.55" y="181.46" width="2.19" height="1.49" fill="#fdc0b0"/>
<rect x="421.55" y="194.92" width="2.19" height="1.49" fill="#fdc0b0"/>
<rect x="421.55" y="202.39" width="2.19" height="1.49" fill="#fdc0b0"/>
<rect x="421.55" y="212.86" width="2.19" height="1.49" fill="#fdc0b0"/>
<rect x="421.55" y="229.30" width="2.19" height="1.49" fill="#fdc0b0"/>
<rect x="421.55" y="272.65" width="2.19" height="1.49" fill="#fdc0b0"/>
<rect x="421.55" y="280.13" width="2.19" height="1.49" fill="#fdc0b0"/>
<rect x="421.55" y="281.62" width="2.19" height="1.49" fill="#fdc0b0"/>
<rect x="421.55" y="286.11" width="2.19" height="1.49" fill="#fdc0b0"/>
<rect x="419.37" y="88.78" width="2.19" height="1.49" fill="#fdc0b0"/>
<rect x="419.37" y="109.71" width="2.19" height="1.49" fill="#fdc0b0"/>
<rect x="419.37" y="132.13" width="2.19" height="1.49" fill="#fdc0b0"/>
<rect x="419.37" y="147.08" width="2.19" height="1.49" fill="#fdc0b0"/>
<rect x="419.37" y="150.07" width="2.19" height="1.49" fill="#fdc0b0"/>
<rect x="419.37" y="154.56" width="2.19" height="1.49" fill="#fdc0b0"/>
<rect x="419.37" y="166.51" width="2.19" height="1.49" fill="#fdc0b0"/>
<rect x="419.37" y="169.50" width="2.19" height="1.49" fill="#fdc0b0"/>
<rect x="419.37" y="190.43" width="2.19" height="1.49" fill="#fdc0b0"/>
<rect x="419.37" y="211.36" width="2.19" height="1.49" fill="#fdc0b0"/>
<rect x="419.37" y="271.16" width="2.19" height="1.49" fill="#fdc0b0"/>
<rect x="419.37" y="272.65" width="2.19" height="1.49" fill="#fdc0b0"/>
<rect x="419.37" y="280.13" width="2.19" height="1.49" fill="#fdc0b0"/>
<rect x="421.55" y="87.29" width="2.19" height="1.49" fill="#fdc0b0"/>
<rect x="421.55" y="108.21" width="2.19" height="1.49" fill="#fdc0b0"/>
<rect x="421.55" y="130.64" width="2.19" height="1.49" fill="#fdc0b0"/>
<rect x="421.55" y="132.13" width="2.19" height="1.49" fill="#fdc0b0"/>
<rect x="421.55" y="139.61" width="2.19" height="1.49" fill="#fdc0b0"/>
<rect x="421.55" y="162.03" width="2.19" height="1.49" fill="#fdc0b0"/>
<rect x="421.55" y="197.91" width="2.19" height="1.49" fill="#fdc0b0"/>
<rect x="421.55" y="203.89" width="2.19" height="1.49" fill="#fdc0b0"/>
<rect x="421.55" y="214.35" width="2.19" height="1.49" fill="#fdc0b0"/>
<rect x="421.55" y="218.84" width="2.19" height="1.49" fill="#fdc0b0"/>
<rect x="421.55" y="226.31" width="2.19" height="1.49" fill="#fdc0b0"/>
<rect x="421.55" y="239.76" width="2.19" height="1.49" fill="#fdc0b0"/>
<rect x="421.55" y="241.26" width="2.19" height="1.49" fill="#fdc0b0"/>
<rect x="421.55" y="256.21" width="2.19" height="1.49" fill="#fdc0b0"/>
<rect x="421.55" y="268.17" width="2.19" height="1.49" fill="#fdc0b0"/>
<rect x="421.55" y="275.64" width="2.19" height="1.49" fill="#fdc0b0"/>
<rect x="421.55" y="278.63" width="2.19" height="1.49" fill="#fdc0b0"/>
<rect x="421.55" y="283.12" width="2.19" height="1.49" fill="#fdc0b0"/>
<rect x="423.74" y="69.35" width="2.19" height="1.49" fill="#fdc0b0"/>
<rect x="425.93" y="67.85" width="2.19" height="1.49" fill="#fdc0b0"/>
<rect x="428.12" y="45.43" width="2.19" height="1.49" fill="#fdc0b0"/>
<rect x="428.12" y="49.91" width="2.19" height="1.49" fill="#fdc0b0"/>
<rect x="428.12" y="54.40" width="2.19" height="1.49" fill="#fdc0b0"/>
<rect x="428.12" y="64.86" width="2.19" height="1.49" fill="#fdc0b0"/>
<rect x="428.12" y="69.35" width="2.19" height="1.49" fill="#fdc0b0"/>
<rect x="430.30" y="36.46" width="2.19" height="1.49" fill="#fdc0b0"/>
<rect x="430.30" y="70.84" width="2.19" height="1.49" fill="#fdc0b0"/>
<rect x="439.05" y="73.83" width="2.19" height="1.49" fill="#fdc0b0"/>
<rect x="441.24" y="46.92" width="2.19" height="1.49" fill="#fdc0b0"/>
<rect x="441.24" y="60.38" width="2.19" height="1.49" fill="#fdc0b0"/>
<rect x="441.24" y="73.83" width="2.19" height="1.49" fill="#fdc0b0"/>
<rect x="443.42" y="70.84" width="2.19" height="1.49" fill="#fdc0b0"/>
<rect x="445.61" y="37.95" width="2.19" height="1.49" fill="#fdc0b0"/>
<rect x="445.61" y="43.93" width="2.19" height="1.49" fill="#fdc0b0"/>
<rect x="445.61" y="46.92" width="2.19" height="1.49" fill="#fdc0b0"/>
<rect x="445.61" y="51.41" width="2.19" height="1.49" fill="#fdc0b0"/>
<rect x="445.61" y="52.90" width="2.19" height="1.49" fill="#fdc0b0"/>
<rect x="445.61" y="55.89" width="2.19" height="1.49" fill="#fdc0b0"/>
<rect x="445.61" y="57.39" width="2.19" height="1.49" fill="#fdc0b0"/>
<rect x="445.61" y="67.85" width="2.19" height="1.49" fill="#fdc0b0"/>
<rect x="447.80" y="36.46" width="2.19" height="1.49" fill="#fdc0b0"/>
<rect x="447.80" y="40.94" width="2.19" height="1.49" fill="#fdc0b0"/>
<rect x="447.80" y="49.91" width="2.19" height="1.49" fill="#fdc0b0"/>
<rect x="447.80" y="51.41" width="2.19" height="1.49" fill="#fdc0b0"/>
<rect x="447.80" y="79.81" width="2.19" height="1.49" fill="#fdc0b0"/>
<rect x="449.99" y="42.44" width="2.19" height="1.49" fill="#fdc0b0"/>
<rect x="449.99" y="43.93" width="2.19" height="1.49" fill="#fdc0b0"/>
<rect x="452.17" y="36.46" width="2.19" height="1.49" fill="#fdc0b0"/>
<rect x="452.17" y="39.45" width="2.19" height="1.49" fill="#fdc0b0"/>
<rect x="452.17" y="52.90" width="2.19" height="1.49" fill="#fdc0b0"/>
<rect x="452.17" y="58.88" width="2.19" height="1.49" fill="#fdc0b0"/>
<rect x="452.17" y="63.37" width="2.19" height="1.49" fill="#fdc0b0"/>
<rect x="452.17" y="70.84" width="2.19" height="1.49" fill="#fdc0b0"/>
<rect x="452.17" y="78.32" width="2.19" height="1.49" fill="#fdc0b0"/>
<rect x="454.36" y="70.84" width="2.19" height="1.49" fill="#fdc0b0"/>
<rect x="456.55" y="28.98" width="2.19" height="1.49" fill="#fdc0b0"/>
<rect x="456.55" y="39.45" width="2.19" height="1.49" fill="#fdc0b0"/>
<rect x="456.55" y="79.81" width="2.19" height="1.49" fill="#fdc0b0"/>
<rect x="458.73" y="43.93" width="2.19" height="1.49" fill="#fdc0b0"/>
<rect x="458.73" y="51.41" width="2.19" height="1.49" fill="#fdc0b0"/>
<rect x="460.92" y="34.96" width="2.19" height="1.49" fill="#fdc0b0"/>
<rect x="460.92" y="43.93" width="2.19" height="1.49" fill="#fdc0b0"/>
<rect x="460.92" y="45.43" width="2.19" height="1.49" fill="#fdc0b0"/>
<rect x="460.92" y="60.38" width="2.19" height="1.49" fill="#fdc0b0"/>
<rect x="460.92" y="73.83" width="2.19" height="1.49" fill="#fdc0b0"/>
<rect x="460.92" y="79.81" width="2.19" height="1.49" fill="#fdc0b0"/>
<rect x="463.11" y="42.44" width="2.19" height="1.49" fill="#fdc0b0"/>
<rect x="465.29" y="28.98" width="2.19" height="1.49" fill="#fdc0b0"/>
<rect x="465.29" y="55.89" width="2.19" height="1.49" fill="#fdc0b0"/>
<rect x="465.29" y="73.83" width="2.19" height="1.49" fill="#fdc0b0"/>
<rect x="465.29" y="75.33" width="2.19" height="1.49" fill="#fdc0b0"/>
<rect x="465.29" y="76.82" width="2.19" height="1.49" fill="#fdc0b0"/>
<rect x="465.29" y="78.32" width="2.19" height="1.49" fill="#fdc0b0"/>
<rect x="467.48" y="31.97" width="2.19" height="1.49" fill="#fdc0b0"/>
<rect x="467.48" y="36.46" width="2.19" height="1.49" fill="#fdc0b0"/>
<rect x="467.48" y="45.43" width="2.19" height="1.49" fill="#fdc0b0"/>
<rect x="467.48" y="49.91" width="2.19" height="1.49" fill="#fdc0b0"/>
<rect x="467.48" y="66.36" width="2.19" height="1.49" fill="#fdc0b0"/>
<rect x="467.48" y="72.34" width="2.19" height="1.49" fill="#fdc0b0"/>
<rect x="469.67" y="51.41" width="2.19" height="1.49" fill="#fdc0b0"/>
<rect x="469.67" y="67.85" width="2.19" height="1.49" fill="#fdc0b0"/>
<rect x="471.86" y="66.36" width="2.19" height="1.49" fill="#fdc0b0"/>
<rect x="474.04" y="76.82" width="2.19" height="1.49" fill="#fdc0b0"/>
<rect x="476.23" y="33.47" width="2.19" height="1.49" fill="#fdc0b0"/>
<rect x="476.23" y="63.37" width="2.19" height="1.49" fill="#fdc0b0"/>
<rect x="476.23" y="67.85" width="2.19" height="1.49" fill="#fdc0b0"/>
<rect x="476.23" y="79.81" width="2.19" height="1.49" fill="#fdc0b0"/>
<rect x="522.16" y="25.99" width="2.19" height="1.49" fill="#fdc0b0"/>
<rect x="546.22" y="25.99" width="2.19" height="1.49" fill="#fdc0b0"/>
<rect x="557.15" y="25.99" width="2.19" height="1.49" fill="#fdc0b0"/>
<rect x="624.95" y="24.50" width="2.19" height="1.49" fill="#fdc0b0"/>
<rect x="646.82" y="25.99" width="2.19" height="1.49" fill="#fdc0b0"/>
<rect x="445.61" y="34.96" width="2.19" height="1.49" fill="#fa8f76"/>
<rect x="445.61" y="42.44" width="2.19" height="1.49" fill="#fa8f76"/>
<rect x="460.92" y="28.98" width="2.19" height="1.49" fill="#fa8f76"/>
<rect x="467.48" y="28.98" width="2.19" height="1.49" fill="#fa8f76"/>
<rect x="502.47" y="43.93" width="2.19" height="1.49" fill="#fa8f76"/>
<rect x="541.84" y="75.33" width="2.19" height="1.49" fill="#fa8f76"/>
<rect x="570.27" y="52.90" width="2.19" height="1.49" fill="#fa8f76"/>
<rect x="587.77" y="73.83" width="2.19" height="1.49" fill="#fa8f76"/>
<rect x="589.96" y="27.49" width="2.19" height="1.49" fill="#fa8f76"/>
<rect x="592.14" y="24.50" width="2.19" height="1.49" fill="#fa8f76"/>
<rect x="624.95" y="28.98" width="2.19" height="1.49" fill="#fa8f76"/>
<rect x="638.07" y="64.86" width="2.19" height="1.49" fill="#fa8f76"/>
<rect x="659.94" y="63.37" width="2.19" height="1.49" fill="#fa8f76"/>
<rect x="670.88" y="93.26" width="2.19" height="1.49" fill="#fa8f76"/>
<rect x="452.17" y="212.86" width="2.19" height="1.49" fill="#fa8f76"/>
<rect x="452.17" y="233.78" width="2.19" height="1.49" fill="#fa8f76"/>
<rect x="460.92" y="139.61" width="2.19" height="1.49" fill="#fa8f76"/>
<rect x="463.11" y="224.81" width="2.19" height="1.49" fill="#fa8f76"/>
<rect x="474.04" y="112.70" width="2.19" height="1.49" fill="#fa8f76"/>
<rect x="487.17" y="169.50" width="2.19" height="1.49" fill="#fa8f76"/>
<rect x="511.22" y="166.51" width="2.19" height="1.49" fill="#fa8f76"/>
<rect x="513.41" y="233.78" width="2.19" height="1.49" fill="#fa8f76"/>
<rect x="524.35" y="226.31" width="2.19" height="1.49" fill="#fa8f76"/>
<rect x="530.91" y="212.86" width="2.19" height="1.49" fill="#fa8f76"/>
<rect x="541.84" y="112.70" width="2.19" height="1.49" fill="#fa8f76"/>
<rect x="554.96" y="106.72" width="2.19" height="1.49" fill="#fa8f76"/>
<rect x="559.34" y="103.73" width="2.19" height="1.49" fill="#fa8f76"/>
<rect x="570.27" y="118.68" width="2.19" height="1.49" fill="#fa8f76"/>
<rect x="572.46" y="187.44" width="2.19" height="1.49" fill="#fa8f76"/>
<rect x="579.02" y="199.40" width="2.19" height="1.49" fill="#fa8f76"/>
<rect x="592.14" y="160.53" width="2.19" height="1.49" fill="#fa8f76"/>
<rect x="614.01" y="154.56" width="2.19" height="1.49" fill="#fa8f76"/>
<rect x="624.95" y="176.98" width="2.19" height="1.49" fill="#fa8f76"/>
<rect x="629.32" y="187.44" width="2.19" height="1.49" fill="#fa8f76"/>
<rect x="649.01" y="136.62" width="2.19" height="1.49" fill="#fa8f76"/>
<rect x="653.38" y="206.88" width="2.19" height="1.49" fill="#fa8f76"/>
<rect x="664.32" y="126.15" width="2.19" height="1.49" fill="#fa8f76"/>
<rect x="677.44" y="168.01" width="2.19" height="1.49" fill="#fa8f76"/>
<rect x="679.63" y="190.43" width="2.19" height="1.49" fill="#fa8f76"/>
<rect x="390.94" y="40.94" width="2.19" height="1.49" fill="#fa8f76"/>
<rect x="397.50" y="48.42" width="2.19" height="1.49" fill="#fa8f76"/>
<rect x="380.00" y="130.64" width="2.19" height="1.49" fill="#fa8f76"/>
<rect x="380.00" y="153.06" width="2.19" height="1.49" fill="#fa8f76"/>
<rect x="380.00" y="154.56" width="2.19" height="1.49" fill="#fa8f76"/>
<rect x="380.00" y="179.97" width="2.19" height="1.49" fill="#fa8f76"/>
<rect x="380.00" y="185.95" width="2.19" height="1.49" fill="#fa8f76"/>
<rect x="380.00" y="211.36" width="2.19" height="1.49" fill="#fa8f76"/>
<rect x="380.00" y="239.76" width="2.19" height="1.49" fill="#fa8f76"/>
<rect x="380.00" y="280.13" width="2.19" height="1.49" fill="#fa8f76"/>
<rect x="380.00" y="283.12" width="2.19" height="1.49" fill="#fa8f76"/>
<rect x="382.19" y="120.17" width="2.19" height="1.49" fill="#fa8f76"/>
<rect x="382.19" y="121.67" width="2.19" height="1.49" fill="#fa8f76"/>
<rect x="382.19" y="124.66" width="2.19" height="1.49" fill="#fa8f76"/>
<rect x="382.19" y="163.52" width="2.19" height="1.49" fill="#fa8f76"/>
<rect x="382.19" y="236.77" width="2.19" height="1.49" fill="#fa8f76"/>
<rect x="382.19" y="263.68" width="2.19" height="1.49" fill="#fa8f76"/>
<rect x="382.19" y="277.14" width="2.19" height="1.49" fill="#fa8f76"/>
<rect x="382.19" y="281.62" width="2.19" height="1.49" fill="#fa8f76"/>
<rect x="384.37" y="96.25" width="2.19" height="1.49" fill="#fa8f76"/>
<rect x="384.37" y="163.52" width="2.19" height="1.49" fill="#fa8f76"/>
<rect x="384.37" y="168.01" width="2.19" height="1.49" fill="#fa8f76"/>
<rect x="384.37" y="169.50" width="2.19" height="1.49" fill="#fa8f76"/>
<rect x="384.37" y="173.99" width="2.19" height="1.49" fill="#fa8f76"/>
<rect x="384.37" y="200.90" width="2.19" height="1.49" fill="#fa8f76"/>
<rect x="384.37" y="224.81" width="2.19" height="1.49" fill="#fa8f76"/>
<rect x="384.37" y="236.77" width="2.19" height="1.49" fill="#fa8f76"/>
<rect x="384.37" y="250.23" width="2.19" height="1.49" fill="#fa8f76"/>
<rect x="384.37" y="271.16" width="2.19" height="1.49" fill="#fa8f76"/>
<rect x="386.56" y="82.80" width="2.19" height="1.49" fill="#fa8f76"/>
<rect x="386.56" y="97.75" width="2.19" height="1.49" fill="#fa8f76"/>
<rect x="386.56" y="100.74" width="2.19" height="1.49" fill="#fa8f76"/>
<rect x="386.56" y="108.21" width="2.19" height="1.49" fill="#fa8f76"/>
<rect x="386.56" y="132.13" width="2.19" height="1.49" fill="#fa8f76"/>
<rect x="386.56" y="133.63" width="2.19" height="1.49" fill="#fa8f76"/>
<rect x="386.56" y="156.05" width="2.19" height="1.49" fill="#fa8f76"/>
<rect x="386.56" y="178.47" width="2.19" height="1.49" fill="#fa8f76"/>
<rect x="386.56" y="184.45" width="2.19" height="1.49" fill="#fa8f76"/>
<rect x="386.56" y="194.92" width="2.19" height="1.49" fill="#fa8f76"/>
<rect x="386.56" y="221.83" width="2.19" height="1.49" fill="#fa8f76"/>
<rect x="386.56" y="232.29" width="2.19" height="1.49" fill="#fa8f76"/>
<rect x="386.56" y="281.62" width="2.19" height="1.49" fill="#fa8f76"/>
<rect x="388.75" y="91.77" width="2.19" height="1.49" fill="#fa8f76"/>
<rect x="388.75" y="132.13" width="2.19" height="1.49" fill="#fa8f76"/>
<rect x="388.75" y="135.12" width="2.19" height="1.49" fill="#fa8f76"/>
<rect x="388.75" y="156.05" width="2.19" height="1.49" fill="#fa8f76"/>
<rect x="388.75" y="171.00" width="2.19" height="1.49" fill="#fa8f76"/>
<rect x="388.75" y="182.96" width="2.19" height="1.49" fill="#fa8f76"/>
<rect x="388.75" y="215.85" width="2.19" height="1.49" fill="#fa8f76"/>
<rect x="388.75" y="226.31" width="2.19" height="1.49" fill="#fa8f76"/>
<rect x="388.75" y="238.27" width="2.19" height="1.49" fill="#fa8f76"/>
<rect x="388.75" y="257.70" width="2.19" height="1.49" fill="#fa8f76"/>
<rect x="388.75" y="274.15" width="2.19" height="1.49" fill="#fa8f76"/>
<rect x="390.94" y="82.80" width="2.19" height="1.49" fill="#fa8f76"/>
<rect x="390.94" y="111.20" width="2.19" height="1.49" fill="#fa8f76"/>
<rect x="390.94" y="115.69" width="2.19" height="1.49" fill="#fa8f76"/>
<rect x="390.94" y="132.13" width="2.19" height="1.49" fill="#fa8f76"/>
<rect x="390.94" y="138.11" width="2.19" height="1.49" fill="#fa8f76"/>
<rect x="390.94" y="144.09" width="2.19" height="1.49" fill="#fa8f76"/>
<rect x="390.94" y="147.08" width="2.19" height="1.49" fill="#fa8f76"/>
<rect x="390.94" y="181.46" width="2.19" height="1.49" fill="#fa8f76"/>
<rect x="390.94" y="188.94" width="2.19" height="1.49" fill="#fa8f76"/>
<rect x="390.94" y="227.80" width="2.19" height="1.49" fill="#fa8f76"/>
<rect x="390.94" y="238.27" width="2.19" height="1.49" fill="#fa8f76"/>
<rect x="390.94" y="241.26" width="2.19" height="1.49" fill="#fa8f76"/>
<rect x="390.94" y="277.14" width="2.19" height="1.49" fill="#fa8f76"/>
<rect x="393.12" y="82.80" width="2.19" height="1.49" fill="#fa8f76"/>
<rect x="393.12" y="133.63" width="2.19" height="1.49" fill="#fa8f76"/>
<rect x="393.12" y="188.94" width="2.19" height="1.49" fill="#fa8f76"/>
<rect x="393.12" y="202.39" width="2.19" height="1.49" fill="#fa8f76"/>
<rect x="393.12" y="238.27" width="2.19" height="1.49" fill="#fa8f76"/>
<rect x="395.31" y="211.36" width="2.19" height="1.49" fill="#fa8f76"/>
<rect x="397.50" y="84.30" width="2.19" height="1.49" fill="#fa8f76"/>
<rect x="397.50" y="87.29" width="2.19" height="1.49" fill="#fa8f76"/>
<rect x="397.50" y="112.70" width="2.19" height="1.49" fill="#fa8f76"/>
<rect x="397.50" y="169.50" width="2.19" height="1.49" fill="#fa8f76"/>
<rect x="397.50" y="176.98" width="2.19" height="1.49" fill="#fa8f76"/>
<rect x="397.50" y="202.39" width="2.19" height="1.49" fill="#fa8f76"/>
<rect x="397.50" y="214.35" width="2.19" height="1.49" fill="#fa8f76"/>
<rect x="397.50" y="230.79" width="2.19" height="1.49" fill="#fa8f76"/>
<rect x="397.50" y="271.16" width="2.19" height="1.49" fill="#fa8f76"/>
<rect x="397.50" y="274.15" width="2.19" height="1.49" fill="#fa8f76"/>
<rect x="399.68" y="94.76" width="2.19" height="1.49" fill="#fa8f76"/>
<rect x="399.68" y="99.24" width="2.19" height="1.49" fill="#fa8f76"/>
<rect x="399.68" y="187.44" width="2.19" height="1.49" fill="#fa8f76"/>
<rect x="399.68" y="191.93" width="2.19" height="1.49" fill="#fa8f76"/>
<rect x="399.68" y="208.37" width="2.19" height="1.49" fill="#fa8f76"/>
<rect x="399.68" y="214.35" width="2.19" height="1.49" fill="#fa8f76"/>
<rect x="401.87" y="87.29" width="2.19" height="1.49" fill="#fa8f76"/>
<rect x="401.87" y="130.64" width="2.19" height="1.49" fill="#fa8f76"/>
<rect x="401.87" y="153.06" width="2.19" height="1.49" fill="#fa8f76"/>
<rect x="401.87" y="172.49" width="2.19" height="1.49" fill="#fa8f76"/>
<rect x="401.87" y="202.39" width="2.19" height="1.49" fill="#fa8f76"/>
<rect x="401.87" y="251.72" width="2.19" height="1.49" fill="#fa8f76"/>
<rect x="404.06" y="112.70" width="2.19" height="1.49" fill="#fa8f76"/>
<rect x="404.06" y="187.44" width="2.19" height="1.49" fill="#fa8f76"/>
<rect x="406.24" y="175.48" width="2.19" height="1.49" fill="#fa8f76"/>
<rect x="406.24" y="200.90" width="2.19" height="1.49" fill="#fa8f76"/>
<rect x="408.43" y="94.76" width="2.19" height="1.49" fill="#fa8f76"/>
<rect x="408.43" y="123.16" width="2.19" height="1.49" fill="#fa8f76"/>
<rect x="410.62" y="111.20" width="2.19" height="1.49" fill="#fa8f76"/>
<rect x="410.62" y="123.16" width="2.19" height="1.49" fill="#fa8f76"/>
<rect x="410.62" y="280.13" width="2.19" height="1.49" fill="#fa8f76"/>
<rect x="412.81" y="280.13" width="2.19" height="1.49" fill="#fa8f76"/>
<rect x="414.99" y="90.28" width="2.19" height="1.49" fill="#fa8f76"/>
<rect x="414.99" y="220.33" width="2.19" height="1.49" fill="#fa8f76"/>
<rect x="414.99" y="265.18" width="2.19" height="1.49" fill="#fa8f76"/>
<rect x="414.99" y="283.12" width="2.19" height="1.49" fill="#fa8f76"/>
<rect x="417.18" y="94.76" width="2.19" height="1.49" fill="#fa8f76"/>
<rect x="417.18" y="221.83" width="2.19" height="1.49" fill="#fa8f76"/>
<rect x="417.18" y="226.31" width="2.19" height="1.49" fill="#fa8f76"/>
<rect x="417.18" y="232.29" width="2.19" height="1.49" fill="#fa8f76"/>
<rect x="419.37" y="103.73" width="2.19" height="1.49" fill="#fa8f76"/>
<rect x="419.37" y="139.61" width="2.19" height="1.49" fill="#fa8f76"/>
<rect x="419.37" y="162.03" width="2.19" height="1.49" fill="#fa8f76"/>
<rect x="421.55" y="84.30" width="2.19" height="1.49" fill="#fa8f76"/>
<rect x="421.55" y="97.75" width="2.19" height="1.49" fill="#fa8f76"/>
<rect x="421.55" y="102.23" width="2.19" height="1.49" fill="#fa8f76"/>
<rect x="421.55" y="103.73" width="2.19" height="1.49" fill="#fa8f76"/>
<rect x="421.55" y="109.71" width="2.19" height="1.49" fill="#fa8f76"/>
<rect x="421.55" y="115.69" width="2.19" height="1.49" fill="#fa8f76"/>
<rect x="421.55" y="138.11" width="2.19" height="1.49" fill="#fa8f76"/>
<rect x="421.55" y="141.10" width="2.19" height="1.49" fill="#fa8f76"/>
<rect x="421.55" y="175.48" width="2.19" height="1.49" fill="#fa8f76"/>
<rect x="421.55" y="179.97" width="2.19" height="1.49" fill="#fa8f76"/>
<rect x="421.55" y="188.94" width="2.19" height="1.49" fill="#fa8f76"/>
<rect x="421.55" y="190.43" width="2.19" height="1.49" fill="#fa8f76"/>
<rect x="421.55" y="250.23" width="2.19" height="1.49" fill="#fa8f76"/>
<rect x="421.55" y="257.70" width="2.19" height="1.49" fill="#fa8f76"/>
<rect x="419.37" y="105.22" width="2.19" height="1.49" fill="#fa8f76"/>
<rect x="419.37" y="163.52" width="2.19" height="1.49" fill="#fa8f76"/>
<rect x="419.37" y="181.46" width="2.19" height="1.49" fill="#fa8f76"/>
<rect x="419.37" y="202.39" width="2.19" height="1.49" fill="#fa8f76"/>
<rect x="419.37" y="214.35" width="2.19" height="1.49" fill="#fa8f76"/>
<rect x="419.37" y="221.83" width="2.19" height="1.49" fill="#fa8f76"/>
<rect x="419.37" y="247.24" width="2.19" height="1.49" fill="#fa8f76"/>
<rect x="419.37" y="250.23" width="2.19" height="1.49" fill="#fa8f76"/>
<rect x="421.55" y="88.78" width="2.19" height="1.49" fill="#fa8f76"/>
<rect x="421.55" y="112.70" width="2.19" height="1.49" fill="#fa8f76"/>
<rect x="421.55" y="136.62" width="2.19" height="1.49" fill="#fa8f76"/>
<rect x="421.55" y="145.59" width="2.19" height="1.49" fill="#fa8f76"/>
<rect x="421.55" y="206.88" width="2.19" height="1.49" fill="#fa8f76"/>
<rect x="421.55" y="238.27" width="2.19" height="1.49" fill="#fa8f76"/>
<rect x="421.55" y="242.75" width="2.19" height="1.49" fill="#fa8f76"/>
<rect x="421.55" y="262.19" width="2.19" height="1.49" fill="#fa8f76"/>
<rect x="423.74" y="63.37" width="2.19" height="1.49" fill="#fa8f76"/>
<rect x="425.93" y="34.96" width="2.19" height="1.49" fill="#fa8f76"/>
<rect x="428.12" y="57.39" width="2.19" height="1.49" fill="#fa8f76"/>
<rect x="428.12" y="61.87" width="2.19" height="1.49" fill="#fa8f76"/>
<rect x="428.12" y="73.83" width="2.19" height="1.49" fill="#fa8f76"/>
<rect x="430.30" y="51.41" width="2.19" height="1.49" fill="#fa8f76"/>
<rect x="430.30" y="63.37" width="2.19" height="1.49" fill="#fa8f76"/>
<rect x="430.30" y="72.34" width="2.19" height="1.49" fill="#fa8f76"/>
<rect x="432.49" y="42.44" width="2.19" height="1.49" fill="#fa8f76"/>
<rect x="432.49" y="76.82" width="2.19" height="1.49" fill="#fa8f76"/>
<rect x="439.05" y="58.88" width="2.19" height="1.49" fill="#fa8f76"/>
<rect x="439.05" y="60.38" width="2.19" height="1.49" fill="#fa8f76"/>
<rect x="445.61" y="28.98" width="2.19" height="1.49" fill="#fa8f76"/>
<rect x="445.61" y="49.91" width="2.19" height="1.49" fill="#fa8f76"/>
<rect x="445.61" y="72.34" width="2.19" height="1.49" fill="#fa8f76"/>
<rect x="447.80" y="28.98" width="2.19" height="1.49" fill="#fa8f76"/>
<rect x="447.80" y="31.97" width="2.19" height="1.49" fill="#fa8f76"/>
<rect x="447.80" y="39.45" width="2.19" height="1.49" fill="#fa8f76"/>
<rect x="449.99" y="31.97" width="2.19" height="1.49" fill="#fa8f76"/>
<rect x="452.17" y="31.97" width="2.19" height="1.49" fill="#fa8f76"/>
<rect x="452.17" y="33.47" width="2.19" height="1.49" fill="#fa8f76"/>
<rect x="452.17" y="34.96" width="2.19" height="1.49" fill="#fa8f76"/>
<rect x="452.17" y="57.39" width="2.19" height="1.49" fill="#fa8f76"/>
<rect x="454.36" y="66.36" width="2.19" height="1.49" fill="#fa8f76"/>
<rect x="456.55" y="49.91" width="2.19" height="1.49" fill="#fa8f76"/>
<rect x="456.55" y="70.84" width="2.19" height="1.49" fill="#fa8f76"/>
<rect x="460.92" y="31.97" width="2.19" height="1.49" fill="#fa8f76"/>
<rect x="460.92" y="40.94" width="2.19" height="1.49" fill="#fa8f76"/>
<rect x="460.92" y="63.37" width="2.19" height="1.49" fill="#fa8f76"/>
<rect x="460.92" y="66.36" width="2.19" height="1.49" fill="#fa8f76"/>
<rect x="463.11" y="46.92" width="2.19" height="1.49" fill="#fa8f76"/>
<rect x="463.11" y="54.40" width="2.19" height="1.49" fill="#fa8f76"/>
<rect x="465.29" y="31.97" width="2.19" height="1.49" fill="#fa8f76"/>
<rect x="465.29" y="33.47" width="2.19" height="1.49" fill="#fa8f76"/>
<rect x="465.29" y="63.37" width="2.19" height="1.49" fill="#fa8f76"/>
<rect x="465.29" y="69.35" width="2.19" height="1.49" fill="#fa8f76"/>
<rect x="467.48" y="33.47" width="2.19" height="1.49" fill="#fa8f76"/>
<rect x="467.48" y="42.44" width="2.19" height="1.49" fill="#fa8f76"/>
<rect x="467.48" y="67.85" width="2.19" height="1.49" fill="#fa8f76"/>
<rect x="471.86" y="36.46" width="2.19" height="1.49" fill="#fa8f76"/>
<rect x="471.86" y="48.42" width="2.19" height="1.49" fill="#fa8f76"/>
<rect x="471.86" y="75.33" width="2.19" height="1.49" fill="#fa8f76"/>
<rect x="476.23" y="49.91" width="2.19" height="1.49" fill="#fa8f76"/>
<rect x="476.23" y="76.82" width="2.19" height="1.49" fill="#fa8f76"/>
<rect x="476.23" y="69.35" width="2.19" height="1.49" fill="#fa8f76"/>
<rect x="539.65" y="25.99" width="2.19" height="1.49" fill="#fa8f76"/>
<rect x="629.32" y="25.99" width="2.19" height="1.49" fill="#fa8f76"/>
<rect x="635.88" y="24.50" width="2.19" height="1.49" fill="#fa8f76"/>
<rect x="640.26" y="24.50" width="2.19" height="1.49" fill="#fa8f76"/>
<rect x="423.74" y="55.89" width="2.19" height="1.49" fill="#f6523a"/>
<rect x="452.17" y="66.36" width="2.19" height="1.49" fill="#f6523a"/>
<rect x="541.84" y="27.49" width="2.19" height="1.49" fill="#f6523a"/>
<rect x="629.32" y="34.96" width="2.19" height="1.49" fill="#f6523a"/>
<rect x="651.19" y="42.44" width="2.19" height="1.49" fill="#f6523a"/>
<rect x="653.38" y="79.81" width="2.19" height="1.49" fill="#f6523a"/>
<rect x="436.86" y="144.09" width="2.19" height="1.49" fill="#f6523a"/>
<rect x="552.78" y="257.70" width="2.19" height="1.49" fill="#f6523a"/>
<rect x="565.90" y="232.29" width="2.19" height="1.49" fill="#f6523a"/>
<rect x="618.39" y="188.94" width="2.19" height="1.49" fill="#f6523a"/>
<rect x="624.95" y="150.07" width="2.19" height="1.49" fill="#f6523a"/>
<rect x="635.88" y="106.72" width="2.19" height="1.49" fill="#f6523a"/>
<rect x="664.32" y="277.14" width="2.19" height="1.49" fill="#f6523a"/>
<rect x="380.00" y="105.22" width="2.19" height="1.49" fill="#f6523a"/>
<rect x="380.00" y="157.54" width="2.19" height="1.49" fill="#f6523a"/>
<rect x="380.00" y="256.21" width="2.19" height="1.49" fill="#f6523a"/>
<rect x="380.00" y="268.17" width="2.19" height="1.49" fill="#f6523a"/>
<rect x="380.00" y="284.61" width="2.19" height="1.49" fill="#f6523a"/>
<rect x="382.19" y="90.28" width="2.19" height="1.49" fill="#f6523a"/>
<rect x="382.19" y="168.01" width="2.19" height="1.49" fill="#f6523a"/>
<rect x="382.19" y="211.36" width="2.19" height="1.49" fill="#f6523a"/>
<rect x="382.19" y="214.35" width="2.19" height="1.49" fill="#f6523a"/>
<rect x="382.19" y="227.80" width="2.19" height="1.49" fill="#f6523a"/>
<rect x="384.37" y="91.77" width="2.19" height="1.49" fill="#f6523a"/>
<rect x="384.37" y="112.70" width="2.19" height="1.49" fill="#f6523a"/>
<rect x="384.37" y="148.58" width="2.19" height="1.49" fill="#f6523a"/>
<rect x="384.37" y="226.31" width="2.19" height="1.49" fill="#f6523a"/>
<rect x="384.37" y="233.78" width="2.19" height="1.49" fill="#f6523a"/>
<rect x="384.37" y="245.74" width="2.19" height="1.49" fill="#f6523a"/>
<rect x="386.56" y="99.24" width="2.19" height="1.49" fill="#f6523a"/>
<rect x="386.56" y="129.14" width="2.19" height="1.49" fill="#f6523a"/>
<rect x="386.56" y="139.61" width="2.19" height="1.49" fill="#f6523a"/>
<rect x="386.56" y="190.43" width="2.19" height="1.49" fill="#f6523a"/>
<rect x="386.56" y="196.41" width="2.19" height="1.49" fill="#f6523a"/>
<rect x="386.56" y="253.22" width="2.19" height="1.49" fill="#f6523a"/>
<rect x="386.56" y="254.71" width="2.19" height="1.49" fill="#f6523a"/>
<rect x="388.75" y="82.80" width="2.19" height="1.49" fill="#f6523a"/>
<rect x="388.75" y="94.76" width="2.19" height="1.49" fill="#f6523a"/>
<rect x="388.75" y="159.04" width="2.19" height="1.49" fill="#f6523a"/>
<rect x="390.94" y="112.70" width="2.19" height="1.49" fill="#f6523a"/>
<rect x="390.94" y="129.14" width="2.19" height="1.49" fill="#f6523a"/>
<rect x="390.94" y="135.12" width="2.19" height="1.49" fill="#f6523a"/>
<rect x="390.94" y="157.54" width="2.19" height="1.49" fill="#f6523a"/>
<rect x="390.94" y="173.99" width="2.19" height="1.49" fill="#f6523a"/>
<rect x="390.94" y="176.98" width="2.19" height="1.49" fill="#f6523a"/>
<rect x="390.94" y="257.70" width="2.19" height="1.49" fill="#f6523a"/>
<rect x="393.12" y="157.54" width="2.19" height="1.49" fill="#f6523a"/>
<rect x="393.12" y="191.93" width="2.19" height="1.49" fill="#f6523a"/>
<rect x="395.31" y="173.99" width="2.19" height="1.49" fill="#f6523a"/>
<rect x="397.50" y="159.04" width="2.19" height="1.49" fill="#f6523a"/>
<rect x="397.50" y="196.41" width="2.19" height="1.49" fill="#f6523a"/>
<rect x="397.50" y="283.12" width="2.19" height="1.49" fill="#f6523a"/>
<rect x="399.68" y="115.69" width="2.19" height="1.49" fill="#f6523a"/>
<rect x="399.68" y="148.58" width="2.19" height="1.49" fill="#f6523a"/>
<rect x="399.68" y="151.57" width="2.19" height="1.49" fill="#f6523a"/>
<rect x="399.68" y="181.46" width="2.19" height="1.49" fill="#f6523a"/>
<rect x="399.68" y="190.43" width="2.19" height="1.49" fill="#f6523a"/>
<rect x="401.87" y="99.24" width="2.19" height="1.49" fill="#f6523a"/>
<rect x="401.87" y="103.73" width="2.19" height="1.49" fill="#f6523a"/>
<rect x="401.87" y="162.03" width="2.19" height="1.49" fill="#f6523a"/>
<rect x="401.87" y="200.90" width="2.19" height="1.49" fill="#f6523a"/>
<rect x="401.87" y="226.31" width="2.19" height="1.49" fill="#f6523a"/>
<rect x="401.87" y="241.26" width="2.19" height="1.49" fill="#f6523a"/>
<rect x="401.87" y="262.19" width="2.19" height="1.49" fill="#f6523a"/>
<rect x="404.06" y="94.76" width="2.19" height="1.49" fill="#f6523a"/>
<rect x="406.24" y="85.79" width="2.19" height="1.49" fill="#f6523a"/>
<rect x="406.24" y="114.19" width="2.19" height="1.49" fill="#f6523a"/>
<rect x="406.24" y="193.42" width="2.19" height="1.49" fill="#f6523a"/>
<rect x="406.24" y="262.19" width="2.19" height="1.49" fill="#f6523a"/>
<rect x="408.43" y="141.10" width="2.19" height="1.49" fill="#f6523a"/>
<rect x="410.62" y="118.68" width="2.19" height="1.49" fill="#f6523a"/>
<rect x="410.62" y="194.92" width="2.19" height="1.49" fill="#f6523a"/>
<rect x="410.62" y="224.81" width="2.19" height="1.49" fill="#f6523a"/>
<rect x="412.81" y="103.73" width="2.19" height="1.49" fill="#f6523a"/>
<rect x="412.81" y="118.68" width="2.19" height="1.49" fill="#f6523a"/>
<rect x="412.81" y="123.16" width="2.19" height="1.49" fill="#f6523a"/>
<rect x="412.81" y="124.66" width="2.19" height="1.49" fill="#f6523a"/>
<rect x="417.18" y="218.84" width="2.19" height="1.49" fill="#f6523a"/>
<rect x="419.37" y="129.14" width="2.19" height="1.49" fill="#f6523a"/>
<rect x="419.37" y="244.25" width="2.19" height="1.49" fill="#f6523a"/>
<rect x="421.55" y="91.77" width="2.19" height="1.49" fill="#f6523a"/>
<rect x="421.55" y="114.19" width="2.19" height="1.49" fill="#f6523a"/>
<rect x="421.55" y="124.66" width="2.19" height="1.49" fill="#f6523a"/>
<rect x="421.55" y="147.08" width="2.19" height="1.49" fill="#f6523a"/>
<rect x="421.55" y="166.51" width="2.19" height="1.49" fill="#f6523a"/>
<rect x="421.55" y="248.73" width="2.19" height="1.49" fill="#f6523a"/>
<rect x="419.37" y="144.09" width="2.19" height="1.49" fill="#f6523a"/>
<rect x="419.37" y="224.81" width="2.19" height="1.49" fill="#f6523a"/>
<rect x="419.37" y="263.68" width="2.19" height="1.49" fill="#f6523a"/>
<rect x="421.55" y="168.01" width="2.19" height="1.49" fill="#f6523a"/>
<rect x="421.55" y="176.98" width="2.19" height="1.49" fill="#f6523a"/>
<rect x="421.55" y="211.36" width="2.19" height="1.49" fill="#f6523a"/>
<rect x="421.55" y="217.34" width="2.19" height="1.49" fill="#f6523a"/>
<rect x="421.55" y="232.29" width="2.19" height="1.49" fill="#f6523a"/>
<rect x="421.55" y="253.22" width="2.19" height="1.49" fill="#f6523a"/>
<rect x="421.55" y="259.20" width="2.19" height="1.49" fill="#f6523a"/>
<rect x="421.55" y="266.67" width="2.19" height="1.49" fill="#f6523a"/>
<rect x="423.74" y="46.92" width="2.19" height="1.49" fill="#f6523a"/>
<rect x="423.74" y="51.41" width="2.19" height="1.49" fill="#f6523a"/>
<rect x="423.74" y="58.88" width="2.19" height="1.49" fill="#f6523a"/>
<rect x="423.74" y="78.32" width="2.19" height="1.49" fill="#f6523a"/>
<rect x="428.12" y="37.95" width="2.19" height="1.49" fill="#f6523a"/>
<rect x="428.12" y="60.38" width="2.19" height="1.49" fill="#f6523a"/>
<rect x="432.49" y="36.46" width="2.19" height="1.49" fill="#f6523a"/>
<rect x="439.05" y="37.95" width="2.19" height="1.49" fill="#f6523a"/>
<rect x="443.42" y="64.86" width="2.19" height="1.49" fill="#f6523a"/>
<rect x="445.61" y="36.46" width="2.19" height="1.49" fill="#f6523a"/>
<rect x="445.61" y="48.42" width="2.19" height="1.49" fill="#f6523a"/>
<rect x="447.80" y="34.96" width="2.19" height="1.49" fill="#f6523a"/>
<rect x="447.80" y="54.40" width="2.19" height="1.49" fill="#f6523a"/>
<rect x="456.55" y="43.93" width="2.19" height="1.49" fill="#f6523a"/>
<rect x="460.92" y="51.41" width="2.19" height="1.49" fill="#f6523a"/>
<rect x="463.11" y="76.82" width="2.19" height="1.49" fill="#f6523a"/>
<rect x="465.29" y="39.45" width="2.19" height="1.49" fill="#f6523a"/>
<rect x="465.29" y="43.93" width="2.19" height="1.49" fill="#f6523a"/>
<rect x="469.67" y="54.40" width="2.19" height="1.49" fill="#f6523a"/>
<rect x="624.95" y="25.99" width="2.19" height="1.49" fill="#f6523a"/>
<rect x="677.44" y="24.50" width="2.19" height="1.49" fill="#f6523a"/>
<rect x="380.00" y="117.18" width="2.19" height="1.49" fill="#f41f0e"/>
<rect x="380.00" y="203.89" width="2.19" height="1.49" fill="#f41f0e"/>
<rect x="380.00" y="269.66" width="2.19" height="1.49" fill="#f41f0e"/>
<rect x="382.19" y="200.90" width="2.19" height="1.49" fill="#f41f0e"/>
<rect x="384.37" y="97.75" width="2.19" height="1.49" fill="#f41f0e"/>
<rect x="384.37" y="187.44" width="2.19" height="1.49" fill="#f41f0e"/>
<rect x="384.37" y="214.35" width="2.19" height="1.49" fill="#f41f0e"/>
<rect x="384.37" y="253.22" width="2.19" height="1.49" fill="#f41f0e"/>
<rect x="386.56" y="105.22" width="2.19" height="1.49" fill="#f41f0e"/>
<rect x="386.56" y="160.53" width="2.19" height="1.49" fill="#f41f0e"/>
<rect x="386.56" y="191.93" width="2.19" height="1.49" fill="#f41f0e"/>
<rect x="386.56" y="244.25" width="2.19" height="1.49" fill="#f41f0e"/>
<rect x="388.75" y="142.60" width="2.19" height="1.49" fill="#f41f0e"/>
<rect x="388.75" y="173.99" width="2.19" height="1.49" fill="#f41f0e"/>
<rect x="388.75" y="208.37" width="2.19" height="1.49" fill="#f41f0e"/>
<rect x="388.75" y="217.34" width="2.19" height="1.49" fill="#f41f0e"/>
<rect x="390.94" y="85.79" width="2.19" height="1.49" fill="#f41f0e"/>
<rect x="390.94" y="124.66" width="2.19" height="1.49" fill="#f41f0e"/>
<rect x="390.94" y="150.07" width="2.19" height="1.49" fill="#f41f0e"/>
<rect x="390.94" y="179.97" width="2.19" height="1.49" fill="#f41f0e"/>
<rect x="390.94" y="205.38" width="2.19" height="1.49" fill="#f41f0e"/>
<rect x="390.94" y="283.12" width="2.19" height="1.49" fill="#f41f0e"/>
<rect x="395.31" y="97.75" width="2.19" height="1.49" fill="#f41f0e"/>
<rect x="397.50" y="81.31" width="2.19" height="1.49" fill="#f41f0e"/>
<rect x="397.50" y="88.78" width="2.19" height="1.49" fill="#f41f0e"/>
<rect x="397.50" y="160.53" width="2.19" height="1.49" fill="#f41f0e"/>
<rect x="399.68" y="105.22" width="2.19" height="1.49" fill="#f41f0e"/>
<rect x="399.68" y="265.18" width="2.19" height="1.49" fill="#f41f0e"/>
<rect x="399.68" y="278.63" width="2.19" height="1.49" fill="#f41f0e"/>
<rect x="401.87" y="112.70" width="2.19" height="1.49" fill="#f41f0e"/>
<rect x="401.87" y="133.63" width="2.19" height="1.49" fill="#f41f0e"/>
<rect x="401.87" y="187.44" width="2.19" height="1.49" fill="#f41f0e"/>
<rect x="401.87" y="236.77" width="2.19" height="1.49" fill="#f41f0e"/>
<rect x="401.87" y="244.25" width="2.19" height="1.49" fill="#f41f0e"/>
<rect x="401.87" y="266.67" width="2.19" height="1.49" fill="#f41f0e"/>
<rect x="401.87" y="268.17" width="2.19" height="1.49" fill="#f41f0e"/>
<rect x="401.87" y="269.66" width="2.19" height="1.49" fill="#f41f0e"/>
<rect x="401.87" y="283.12" width="2.19" height="1.49" fill="#f41f0e"/>
<rect x="404.06" y="133.63" width="2.19" height="1.49" fill="#f41f0e"/>
<rect x="406.24" y="94.76" width="2.19" height="1.49" fill="#f41f0e"/>
<rect x="406.24" y="126.15" width="2.19" height="1.49" fill="#f41f0e"/>
<rect x="406.24" y="232.29" width="2.19" height="1.49" fill="#f41f0e"/>
<rect x="408.43" y="135.12" width="2.19" height="1.49" fill="#f41f0e"/>
<rect x="408.43" y="193.42" width="2.19" height="1.49" fill="#f41f0e"/>
<rect x="408.43" y="233.78" width="2.19" height="1.49" fill="#f41f0e"/>
<rect x="412.81" y="209.87" width="2.19" height="1.49" fill="#f41f0e"/>
<rect x="412.81" y="235.28" width="2.19" height="1.49" fill="#f41f0e"/>
<rect x="412.81" y="239.76" width="2.19" height="1.49" fill="#f41f0e"/>
<rect x="417.18" y="97.75" width="2.19" height="1.49" fill="#f41f0e"/>
<rect x="417.18" y="245.74" width="2.19" height="1.49" fill="#f41f0e"/>
<rect x="419.37" y="115.69" width="2.19" height="1.49" fill="#f41f0e"/>
<rect x="419.37" y="124.66" width="2.19" height="1.49" fill="#f41f0e"/>
<rect x="419.37" y="165.02" width="2.19" height="1.49" fill="#f41f0e"/>
<rect x="419.37" y="257.70" width="2.19" height="1.49" fill="#f41f0e"/>
<rect x="421.55" y="142.60" width="2.19" height="1.49" fill="#f41f0e"/>
<rect x="421.55" y="148.58" width="2.19" height="1.49" fill="#f41f0e"/>
<rect x="421.55" y="154.56" width="2.19" height="1.49" fill="#f41f0e"/>
<rect x="421.55" y="169.50" width="2.19" height="1.49" fill="#f41f0e"/>
<rect x="421.55" y="178.47" width="2.19" height="1.49" fill="#f41f0e"/>
<rect x="421.55" y="230.79" width="2.19" height="1.49" fill="#f41f0e"/>
<rect x="421.55" y="233.78" width="2.19" height="1.49" fill="#f41f0e"/>
<rect x="419.37" y="91.77" width="2.19" height="1.49" fill="#f41f0e"/>
<rect x="419.37" y="178.47" width="2.19" height="1.49" fill="#f41f0e"/>
<rect x="421.55" y="165.02" width="2.19" height="1.49" fill="#f41f0e"/>
<rect x="421.55" y="215.85" width="2.19" height="1.49" fill="#f41f0e"/>
<rect x="421.55" y="221.83" width="2.19" height="1.49" fill="#f41f0e"/>
<rect x="439.05" y="48.42" width="2.19" height="1.49" fill="#f41f0e"/>
<rect x="443.42" y="54.40" width="2.19" height="1.49" fill="#f41f0e"/>
<rect x="445.61" y="75.33" width="2.19" height="1.49" fill="#f41f0e"/>
<rect x="449.99" y="51.41" width="2.19" height="1.49" fill="#f41f0e"/>
<rect x="449.99" y="54.40" width="2.19" height="1.49" fill="#f41f0e"/>
<rect x="452.17" y="27.49" width="2.19" height="1.49" fill="#f41f0e"/>
<rect x="456.55" y="64.86" width="2.19" height="1.49" fill="#f41f0e"/>
<rect x="460.92" y="42.44" width="2.19" height="1.49" fill="#f41f0e"/>
<rect x="460.92" y="52.90" width="2.19" height="1.49" fill="#f41f0e"/>
<rect x="460.92" y="72.34" width="2.19" height="1.49" fill="#f41f0e"/>
<rect x="463.11" y="31.97" width="2.19" height="1.49" fill="#f41f0e"/>
<rect x="463.11" y="55.89" width="2.19" height="1.49" fill="#f41f0e"/>
<rect x="463.11" y="67.85" width="2.19" height="1.49" fill="#f41f0e"/>
<rect x="465.29" y="27.49" width="2.19" height="1.49" fill="#f41f0e"/>
<rect x="465.29" y="30.48" width="2.19" height="1.49" fill="#f41f0e"/>
<rect x="476.23" y="57.39" width="2.19" height="1.49" fill="#f41f0e"/>
<path d="M23.5 287.6 V24.5 H328.5 V287.6" fill="none" stroke="#707070" stroke-width="1"/>
<line x1="23.5" y1="287.6" x2="328.5" y2="287.6" stroke="#707070" stroke-width="0.8"/>
<path d="M379.5 287.6 V24.5 H684.3 V287.6" fill="none" stroke="#707070" stroke-width="1"/>
<line x1="379.5" y1="287.6" x2="684.3" y2="287.6" stroke="#707070" stroke-width="0.8"/>
<rect x="23" y="288" width="86.5" height="14.800000000000011" fill="#e87722"/>
<text x="66.25" y="298.5" font-size="8.6" font-weight="bold" fill="#fff" text-anchor="middle">G1</text>
<rect x="109.5" y="288" width="36.099999999999994" height="14.800000000000011" fill="#7dbd85"/>
<text x="127.55" y="298.5" font-size="8.6" font-weight="bold" fill="#fff" text-anchor="middle">G2</text>
<rect x="145.6" y="288" width="33.400000000000006" height="14.800000000000011" fill="#e0288a"/>
<text x="162.3" y="298.5" font-size="8.6" font-weight="bold" fill="#fff" text-anchor="middle">G3</text>
<rect x="179" y="288" width="73" height="14.800000000000011" fill="#35b4e6"/>
<text x="215.5" y="298.5" font-size="8.6" font-weight="bold" fill="#fff" text-anchor="middle">G4</text>
<rect x="252" y="288" width="29" height="14.800000000000011" fill="#6f3f98"/>
<text x="266.5" y="298.5" font-size="8.6" font-weight="bold" fill="#fff" text-anchor="middle">G5</text>
<rect x="281" y="288" width="47.80000000000001" height="14.800000000000011" fill="#6a8a2e"/>
<text x="304.9" y="298.5" font-size="8.6" font-weight="bold" fill="#fff" text-anchor="middle">G6</text>
<rect x="379" y="288" width="43.80000000000001" height="14.800000000000011" fill="#e03a3a"/>
<text x="400.9" y="298.5" font-size="8.6" font-weight="bold" fill="#fff" text-anchor="middle">BR</text>
<rect x="422.8" y="288" width="56.19999999999999" height="14.800000000000011" fill="#0b4a8a"/>
<text x="450.9" y="298.5" font-size="8.6" font-weight="bold" fill="#fff" text-anchor="middle">MD</text>
<rect x="479" y="288" width="206" height="14.800000000000011" fill="#c9a400"/>
<text x="582.0" y="298.5" font-size="8.6" font-weight="bold" fill="#fff" text-anchor="middle">UP</text>
<text x="176" y="314.3" font-size="8.7" fill="#222" text-anchor="middle">Samples</text>
<text x="532.8" y="314.3" font-size="8.7" fill="#222" text-anchor="middle">Samples</text>
<text transform="translate(15.6,152.7) rotate(-90)" font-size="8.1" fill="#222" text-anchor="middle">Specific bacterial ASVs</text>
<text transform="translate(370.5,152.7) rotate(-90)" font-size="8.1" fill="#222" text-anchor="middle">Specific bacterial ASVs</text>
<line x1="49.5" y1="354.5" x2="301.5" y2="354.5" stroke="#dcdcdc" stroke-width="0.6"/>
<line x1="49.5" y1="387.1" x2="301.5" y2="387.1" stroke="#dcdcdc" stroke-width="0.6"/>
<line x1="49.5" y1="444.37500000000006" x2="301.5" y2="444.37500000000006" stroke="#dcdcdc" stroke-width="0.6"/>
<line x1="49.5" y1="501.65000000000003" x2="301.5" y2="501.65000000000003" stroke="#dcdcdc" stroke-width="0.6"/>
<line x1="49.5" y1="558.9250000000001" x2="301.5" y2="558.9250000000001" stroke="#dcdcdc" stroke-width="0.6"/>
<line x1="49.5" y1="616.2" x2="301.5" y2="616.2" stroke="#dcdcdc" stroke-width="0.6"/>
<rect x="55.60" y="354.50" width="36.60" height="8.30" fill="url(#dotsB)"/>
<rect x="55.60" y="362.80" width="36.60" height="1.00" fill="#f9f9f9"/>
<rect x="55.60" y="363.80" width="36.60" height="2.50" fill="url(#dotsBl)"/>
<rect x="55.60" y="366.30" width="36.60" height="1.00" fill="#f9f9f9"/>
<rect x="55.60" y="367.30" width="36.60" height="3.30" fill="url(#dotsBm)"/>
<rect x="55.60" y="370.60" width="36.60" height="244.00" fill="url(#dotsB)"/>
<rect x="55.60" y="614.60" width="36.60" height="2.00" fill="#80249a"/>
<rect x="96.30" y="354.50" width="36.60" height="8.30" fill="url(#dotsB)"/>
<rect x="96.30" y="362.80" width="36.60" height="1.00" fill="#f9f9f9"/>
<rect x="96.30" y="363.80" width="36.60" height="2.50" fill="url(#dotsBl)"/>
<rect x="96.30" y="366.30" width="36.60" height="1.00" fill="#f9f9f9"/>
<rect x="96.30" y="367.30" width="36.60" height="3.30" fill="url(#dotsBm)"/>
<rect x="96.30" y="370.60" width="36.60" height="209.80" fill="url(#dotsB)"/>
<rect x="96.30" y="580.40" width="36.60" height="0.90" fill="#f2e8ea"/>
<rect x="96.30" y="581.30" width="36.60" height="5.90" fill="#009e70"/>
<rect x="96.30" y="587.20" width="36.60" height="22.00" fill="#999999"/>
<rect x="96.30" y="609.20" width="36.60" height="7.40" fill="#e6a000"/>
<rect x="137.00" y="354.50" width="36.60" height="8.30" fill="url(#dotsB)"/>
<rect x="137.00" y="362.80" width="36.60" height="1.00" fill="#f9f9f9"/>
<rect x="137.00" y="363.80" width="36.60" height="2.50" fill="url(#dotsBl)"/>
<rect x="137.00" y="366.30" width="36.60" height="1.00" fill="#f9f9f9"/>
<rect x="137.00" y="367.30" width="36.60" height="3.30" fill="url(#dotsBm)"/>
<rect x="137.00" y="370.60" width="36.60" height="131.40" fill="url(#dotsB)"/>
<rect x="137.00" y="502.00" width="36.60" height="4.00" fill="#e5e5e5"/>
<rect x="137.00" y="506.00" width="36.60" height="6.50" fill="#c8bc0a"/>
<rect x="137.00" y="512.50" width="36.60" height="6.80" fill="#4f1a8a"/>
<rect x="137.00" y="519.30" width="36.60" height="3.80" fill="#f08040"/>
<rect x="137.00" y="523.10" width="36.60" height="10.90" fill="#d09595"/>
<rect x="137.00" y="534.00" width="36.60" height="21.60" fill="#8b0e3a"/>
<rect x="137.00" y="555.60" width="36.60" height="11.00" fill="#ff5cb8"/>
<rect x="137.00" y="566.60" width="36.60" height="50.00" fill="#ccffaa"/>
<rect x="177.70" y="354.50" width="36.60" height="8.30" fill="url(#dotsB)"/>
<rect x="177.70" y="362.80" width="36.60" height="1.00" fill="#f9f9f9"/>
<rect x="177.70" y="363.80" width="36.60" height="2.50" fill="url(#dotsBl)"/>
<rect x="177.70" y="366.30" width="36.60" height="1.00" fill="#f9f9f9"/>
<rect x="177.70" y="367.30" width="36.60" height="3.30" fill="url(#dotsBm)"/>
<rect x="177.70" y="370.60" width="36.60" height="226.40" fill="url(#dotsB)"/>
<rect x="177.70" y="597.00" width="36.60" height="2.80" fill="#d0663a"/>
<rect x="177.70" y="599.80" width="36.60" height="4.30" fill="#00ffff"/>
<rect x="177.70" y="604.10" width="36.60" height="6.80" fill="#80249a"/>
<rect x="177.70" y="610.90" width="36.60" height="5.70" fill="#e6a000"/>
<rect x="218.40" y="354.50" width="36.60" height="8.30" fill="url(#dotsB)"/>
<rect x="218.40" y="362.80" width="36.60" height="1.00" fill="#f9f9f9"/>
<rect x="218.40" y="363.80" width="36.60" height="2.50" fill="url(#dotsBl)"/>
<rect x="218.40" y="366.30" width="36.60" height="1.00" fill="#f9f9f9"/>
<rect x="218.40" y="367.30" width="36.60" height="3.30" fill="url(#dotsBm)"/>
<rect x="218.40" y="370.60" width="36.60" height="4.20" fill="url(#dotsB)"/>
<rect x="218.40" y="374.80" width="36.60" height="15.20" fill="#e5e5e5"/>
<rect x="218.40" y="390.00" width="36.60" height="6.00" fill="#ffd700"/>
<rect x="218.40" y="396.00" width="36.60" height="7.00" fill="#00ffff"/>
<rect x="218.40" y="403.00" width="36.60" height="7.10" fill="#f08040"/>
<rect x="218.40" y="410.10" width="36.60" height="7.60" fill="#1a4f8a"/>
<rect x="218.40" y="417.70" width="36.60" height="10.30" fill="#e0137f"/>
<rect x="218.40" y="428.00" width="36.60" height="12.90" fill="#e03535"/>
<rect x="218.40" y="440.90" width="36.60" height="16.10" fill="#74a2f6"/>
<rect x="218.40" y="457.00" width="36.60" height="16.10" fill="#1010e0"/>
<rect x="218.40" y="473.10" width="36.60" height="26.90" fill="#80249a"/>
<rect x="218.40" y="500.00" width="36.60" height="29.40" fill="#e6a000"/>
<rect x="218.40" y="529.40" width="36.60" height="42.60" fill="#ff5cb8"/>
<rect x="218.40" y="572.00" width="36.60" height="44.60" fill="#00cccc"/>
<rect x="259.10" y="354.50" width="36.60" height="8.30" fill="url(#dotsB)"/>
<rect x="259.10" y="362.80" width="36.60" height="1.00" fill="#f9f9f9"/>
<rect x="259.10" y="363.80" width="36.60" height="2.50" fill="url(#dotsBl)"/>
<rect x="259.10" y="366.30" width="36.60" height="1.00" fill="#f9f9f9"/>
<rect x="259.10" y="367.30" width="36.60" height="3.30" fill="url(#dotsBm)"/>
<rect x="259.10" y="370.60" width="36.60" height="159.60" fill="url(#dotsB)"/>
<rect x="259.10" y="530.20" width="36.60" height="6.80" fill="#e5e5e5"/>
<rect x="259.10" y="537.00" width="36.60" height="2.90" fill="#7ab530"/>
<rect x="259.10" y="539.90" width="36.60" height="3.10" fill="#87ceeb"/>
<rect x="259.10" y="543.00" width="36.60" height="3.30" fill="#453a8c"/>
<rect x="259.10" y="546.30" width="36.60" height="3.60" fill="#778899"/>
<rect x="259.10" y="549.90" width="36.60" height="4.90" fill="#fbd4dd"/>
<rect x="259.10" y="554.80" width="36.60" height="6.20" fill="#a060d8"/>
<rect x="259.10" y="561.00" width="36.60" height="7.90" fill="#009e70"/>
<rect x="259.10" y="568.90" width="36.60" height="9.10" fill="#f8f8d2"/>
<rect x="259.10" y="578.00" width="36.60" height="5.90" fill="#e03535"/>
<rect x="259.10" y="583.90" width="36.60" height="7.20" fill="#74a2f6"/>
<rect x="259.10" y="591.10" width="36.60" height="1.80" fill="#8b0e3a"/>
<rect x="259.10" y="592.90" width="36.60" height="17.10" fill="#80249a"/>
<rect x="259.10" y="610.00" width="36.60" height="6.60" fill="#e6a000"/>
<rect x="49.5" y="342.5" width="252.0" height="285.70000000000005" fill="none" stroke="#707070" stroke-width="1"/>
<line x1="47.1" y1="354.5" x2="49.5" y2="354.5" stroke="#707070" stroke-width="0.8"/>
<text x="45.6" y="356.0" font-size="8.3" fill="#222" text-anchor="end">100</text>
<line x1="47.1" y1="387.1" x2="49.5" y2="387.1" stroke="#707070" stroke-width="0.8"/>
<text x="45.6" y="388.6" font-size="8.3" fill="#222" text-anchor="end">2.0</text>
<line x1="47.1" y1="444.37500000000006" x2="49.5" y2="444.37500000000006" stroke="#707070" stroke-width="0.8"/>
<text x="45.6" y="445.87500000000006" font-size="8.3" fill="#222" text-anchor="end">1.5</text>
<line x1="47.1" y1="501.65000000000003" x2="49.5" y2="501.65000000000003" stroke="#707070" stroke-width="0.8"/>
<text x="45.6" y="503.15000000000003" font-size="8.3" fill="#222" text-anchor="end">1.0</text>
<line x1="47.1" y1="558.9250000000001" x2="49.5" y2="558.9250000000001" stroke="#707070" stroke-width="0.8"/>
<text x="45.6" y="560.4250000000001" font-size="8.3" fill="#222" text-anchor="end">0.5</text>
<line x1="47.1" y1="616.2" x2="49.5" y2="616.2" stroke="#707070" stroke-width="0.8"/>
<text x="45.6" y="617.7" font-size="8.3" fill="#222" text-anchor="end">0.0</text>
<line x1="73.9" y1="628.2" x2="73.9" y2="631.2" stroke="#707070" stroke-width="0.8"/>
<text x="73.9" y="643.2" font-size="8.3" font-weight="bold" fill="#e87722" text-anchor="middle">G1</text>
<line x1="114.60000000000001" y1="628.2" x2="114.60000000000001" y2="631.2" stroke="#707070" stroke-width="0.8"/>
<text x="114.60000000000001" y="643.2" font-size="8.3" font-weight="bold" fill="#7dbd85" text-anchor="middle">G2</text>
<line x1="155.3" y1="628.2" x2="155.3" y2="631.2" stroke="#707070" stroke-width="0.8"/>
<text x="155.3" y="643.2" font-size="8.3" font-weight="bold" fill="#e0288a" text-anchor="middle">G3</text>
<line x1="196.0" y1="628.2" x2="196.0" y2="631.2" stroke="#707070" stroke-width="0.8"/>
<text x="196.0" y="643.2" font-size="8.3" font-weight="bold" fill="#35b4e6" text-anchor="middle">G4</text>
<line x1="236.70000000000002" y1="628.2" x2="236.70000000000002" y2="631.2" stroke="#707070" stroke-width="0.8"/>
<text x="236.70000000000002" y="643.2" font-size="8.3" font-weight="bold" fill="#6f3f98" text-anchor="middle">G5</text>
<line x1="277.4" y1="628.2" x2="277.4" y2="631.2" stroke="#707070" stroke-width="0.8"/>
<text x="277.4" y="643.2" font-size="8.3" font-weight="bold" fill="#6a8a2e" text-anchor="middle">G6</text>
<line x1="46.0" y1="366.6" x2="53.1" y2="363.0" stroke="#333" stroke-width="0.8"/>
<line x1="46.0" y1="369.6" x2="53.1" y2="366.0" stroke="#333" stroke-width="0.8"/>
<text transform="translate(28.8,487) rotate(-90)" font-size="8.3" fill="#222" text-anchor="middle">Bacterial community composition (%)</text>
<line x1="405.5" y1="354.3" x2="657.5" y2="354.3" stroke="#dcdcdc" stroke-width="0.6"/>
<line x1="405.5" y1="403.35" x2="657.5" y2="403.35" stroke="#dcdcdc" stroke-width="0.6"/>
<line x1="405.5" y1="474.30000000000007" x2="657.5" y2="474.30000000000007" stroke="#dcdcdc" stroke-width="0.6"/>
<line x1="405.5" y1="545.25" x2="657.5" y2="545.25" stroke="#dcdcdc" stroke-width="0.6"/>
<line x1="405.5" y1="616.2" x2="657.5" y2="616.2" stroke="#dcdcdc" stroke-width="0.6"/>
<rect x="417.00" y="354.10" width="71.00" height="8.70" fill="url(#dotsD)"/>
<rect x="417.00" y="362.80" width="71.00" height="1.00" fill="#f9f9f9"/>
<rect x="417.00" y="363.80" width="71.00" height="2.50" fill="url(#dotsDl)"/>
<rect x="417.00" y="366.30" width="71.00" height="1.00" fill="#f9f9f9"/>
<rect x="417.00" y="367.30" width="71.00" height="3.30" fill="url(#dotsDm)"/>
<rect x="417.00" y="370.60" width="71.00" height="6.40" fill="url(#dotsD)"/>
<rect x="417.00" y="377.00" width="71.00" height="60.90" fill="#e5e5e5"/>
<rect x="417.00" y="437.90" width="71.00" height="6.30" fill="#8b0000"/>
<rect x="417.00" y="444.20" width="71.00" height="6.90" fill="#ee82ee"/>
<rect x="417.00" y="451.10" width="71.00" height="8.00" fill="#00cccc"/>
<rect x="417.00" y="459.10" width="71.00" height="8.80" fill="#f08040"/>
<rect x="417.00" y="467.90" width="71.00" height="11.20" fill="#78a4f4"/>
<rect x="417.00" y="479.10" width="71.00" height="12.90" fill="#2a6ef0"/>
<rect x="417.00" y="492.00" width="71.00" height="13.50" fill="#ff5cb8"/>
<rect x="417.00" y="505.50" width="71.00" height="7.60" fill="#009e70"/>
<rect x="417.00" y="513.10" width="71.00" height="16.00" fill="#00ffff"/>
<rect x="417.00" y="529.10" width="71.00" height="32.10" fill="#80249a"/>
<rect x="417.00" y="561.20" width="71.00" height="55.40" fill="#e03535"/>
<rect x="496.00" y="354.10" width="71.00" height="8.70" fill="url(#dotsD)"/>
<rect x="496.00" y="362.80" width="71.00" height="1.00" fill="#f9f9f9"/>
<rect x="496.00" y="363.80" width="71.00" height="2.50" fill="url(#dotsDl)"/>
<rect x="496.00" y="366.30" width="71.00" height="1.00" fill="#f9f9f9"/>
<rect x="496.00" y="367.30" width="71.00" height="3.30" fill="url(#dotsDm)"/>
<rect x="496.00" y="370.60" width="71.00" height="191.40" fill="url(#dotsD)"/>
<rect x="496.00" y="562.00" width="71.00" height="7.00" fill="#e5e5e5"/>
<rect x="496.00" y="569.00" width="71.00" height="1.20" fill="#c1ffc1"/>
<rect x="496.00" y="570.20" width="71.00" height="5.40" fill="#ffd700"/>
<rect x="496.00" y="575.60" width="71.00" height="6.00" fill="#000000"/>
<rect x="496.00" y="581.60" width="71.00" height="6.40" fill="#999999"/>
<rect x="496.00" y="588.00" width="71.00" height="11.60" fill="#ff5cb8"/>
<rect x="496.00" y="599.60" width="71.00" height="14.80" fill="#009e70"/>
<rect x="496.00" y="614.40" width="71.00" height="2.20" fill="#80249a"/>
<rect x="575.00" y="354.10" width="71.00" height="8.70" fill="url(#dotsD)"/>
<rect x="575.00" y="362.80" width="71.00" height="1.00" fill="#f9f9f9"/>
<rect x="575.00" y="363.80" width="71.00" height="2.50" fill="url(#dotsDl)"/>
<rect x="575.00" y="366.30" width="71.00" height="1.00" fill="#f9f9f9"/>
<rect x="575.00" y="367.30" width="71.00" height="3.30" fill="url(#dotsDm)"/>
<rect x="575.00" y="370.60" width="71.00" height="239.70" fill="url(#dotsD)"/>
<rect x="575.00" y="610.30" width="71.00" height="0.80" fill="#ffe1ff"/>
<rect x="575.00" y="611.10" width="71.00" height="1.90" fill="#000000"/>
<rect x="575.00" y="613.00" width="71.00" height="3.60" fill="#f08040"/>
<rect x="405.5" y="342.5" width="252.0" height="285.70000000000005" fill="none" stroke="#707070" stroke-width="1"/>
<line x1="403.1" y1="354.3" x2="405.5" y2="354.3" stroke="#707070" stroke-width="0.8"/>
<text x="401.6" y="355.8" font-size="8.3" fill="#222" text-anchor="end">100</text>
<line x1="403.1" y1="403.35" x2="405.5" y2="403.35" stroke="#707070" stroke-width="0.8"/>
<text x="401.6" y="404.85" font-size="8.3" fill="#222" text-anchor="end">15</text>
<line x1="403.1" y1="474.30000000000007" x2="405.5" y2="474.30000000000007" stroke="#707070" stroke-width="0.8"/>
<text x="401.6" y="475.80000000000007" font-size="8.3" fill="#222" text-anchor="end">10</text>
<line x1="403.1" y1="545.25" x2="405.5" y2="545.25" stroke="#707070" stroke-width="0.8"/>
<text x="401.6" y="546.75" font-size="8.3" fill="#222" text-anchor="end">5</text>
<line x1="403.1" y1="616.2" x2="405.5" y2="616.2" stroke="#707070" stroke-width="0.8"/>
<text x="401.6" y="617.7" font-size="8.3" fill="#222" text-anchor="end">0</text>
<line x1="453.1" y1="628.2" x2="453.1" y2="631.2" stroke="#707070" stroke-width="0.8"/>
<text x="453.1" y="643.2" font-size="8.3" font-weight="bold" fill="#e03a3a" text-anchor="middle">BR</text>
<line x1="532.1" y1="628.2" x2="532.1" y2="631.2" stroke="#707070" stroke-width="0.8"/>
<text x="532.1" y="643.2" font-size="8.3" font-weight="bold" fill="#1f4e8c" text-anchor="middle">MD</text>
<line x1="611.1" y1="628.2" x2="611.1" y2="631.2" stroke="#707070" stroke-width="0.8"/>
<text x="611.1" y="643.2" font-size="8.3" font-weight="bold" fill="#d4a800" text-anchor="middle">UP</text>
<line x1="402.0" y1="366.6" x2="409.1" y2="363.0" stroke="#333" stroke-width="0.8"/>
<line x1="402.0" y1="369.6" x2="409.1" y2="366.0" stroke="#333" stroke-width="0.8"/>
<text transform="translate(385.0,487) rotate(-90)" font-size="8.3" fill="#222" text-anchor="middle">Bacterial community composition (%)</text>
<text x="35.2" y="665.0" font-size="8.75" font-weight="bold" fill="#111">Genotype-specific bacterial families</text>
<rect x="34" y="676.80" width="11" height="10.8" fill="#ccffaa"/>
<text x="51.6" y="685.20" font-size="8.75" fill="#222">Brevibacteriaceae</text>
<rect x="34" y="688.69" width="11" height="10.8" fill="#00cccc"/>
<text x="51.6" y="697.09" font-size="8.75" fill="#222">Halieaceae</text>
<rect x="34" y="700.57" width="11" height="10.8" fill="#ff5cb8"/>
<text x="51.6" y="708.97" font-size="8.75" fill="#222">Sandaracinaceae</text>
<rect x="34" y="712.46" width="11" height="10.8" fill="#e6a000"/>
<text x="51.6" y="720.86" font-size="8.75" fill="#222">Spirochaetaceae</text>
<rect x="34" y="724.34" width="11" height="10.8" fill="#80249a"/>
<text x="51.6" y="732.74" font-size="8.75" fill="#222">Alphaproteobacteria unclassified</text>
<rect x="34" y="736.23" width="11" height="10.8" fill="#999999"/>
<text x="51.6" y="744.63" font-size="8.75" fill="#222">Kiloniellaceae</text>
<rect x="34" y="748.12" width="11" height="10.8" fill="#8b0e3a"/>
<text x="51.6" y="756.52" font-size="8.75" fill="#222">Rickettsiales unclassified</text>
<rect x="34" y="760.00" width="11" height="10.8" fill="#1010e0"/>
<text x="51.6" y="768.40" font-size="8.75" fill="#222">Alteromonadaceae</text>
<rect x="34" y="771.89" width="11" height="10.8" fill="#74a2f6"/>
<text x="51.6" y="780.29" font-size="8.75" fill="#222">Gammaproteobacteria unclassified</text>
<rect x="34" y="783.77" width="11" height="10.8" fill="#e03535"/>
<text x="51.6" y="792.17" font-size="8.75" fill="#222">Rhodobacteraceae</text>
<rect x="34" y="795.66" width="11" height="10.8" fill="#e0137f"/>
<text x="51.6" y="804.06" font-size="8.75" fill="#222">Simkaniaceae</text>
<rect x="34" y="807.55" width="11" height="10.8" fill="#d09595"/>
<text x="51.6" y="815.95" font-size="8.75" fill="#222">Defluviicoccales unclassified</text>
<rect x="34" y="819.43" width="11" height="10.8" fill="#f8f8d2"/>
<text x="51.6" y="827.83" font-size="8.75" fill="#222">NB1–j</text>
<rect x="34" y="831.32" width="11" height="10.8" fill="#009e70"/>
<text x="51.6" y="839.72" font-size="8.75" fill="#222">Thalassobaculales unclassified</text>
<rect x="34" y="843.20" width="11" height="10.8" fill="#1a4f8a"/>
<text x="51.6" y="851.60" font-size="8.75" fill="#222">Unknown Alphaproteobacteria Incertae Sedis</text>
<rect x="237" y="676.80" width="11" height="10.8" fill="#f08040"/>
<text x="255.6" y="685.20" font-size="8.75" fill="#222">Cyclobacteriaceae</text>
<rect x="237" y="688.69" width="11" height="10.8" fill="#4f1a8a"/>
<text x="255.6" y="697.09" font-size="8.75" fill="#222">Dietziaceae</text>
<rect x="237" y="700.57" width="11" height="10.8" fill="#00ffff"/>
<text x="255.6" y="708.97" font-size="8.75" fill="#222">Flavobacteriaceae</text>
<rect x="237" y="712.46" width="11" height="10.8" fill="#c8bc0a"/>
<text x="255.6" y="720.86" font-size="8.75" fill="#222">Dermabacteraceae</text>
<rect x="237" y="724.34" width="11" height="10.8" fill="#a060d8"/>
<text x="255.6" y="732.74" font-size="8.75" fill="#222">Woeseiaceae</text>
<rect x="237" y="736.23" width="11" height="10.8" fill="#ffd700"/>
<text x="255.6" y="744.63" font-size="8.75" fill="#222">Bacteroidia unclassified</text>
<rect x="237" y="748.12" width="11" height="10.8" fill="#fbd4dd"/>
<text x="255.6" y="756.52" font-size="8.75" fill="#222">Marinomonadaceae</text>
<rect x="237" y="760.00" width="11" height="10.8" fill="#778899"/>
<text x="255.6" y="768.40" font-size="8.75" fill="#222">Planctomycetota unclassified</text>
<rect x="237" y="771.89" width="11" height="10.8" fill="#453a8c"/>
<text x="255.6" y="780.29" font-size="8.75" fill="#222">Candidatus Kaiserbacteria</text>
<rect x="237" y="783.77" width="11" height="10.8" fill="#87ceeb"/>
<text x="255.6" y="792.17" font-size="8.75" fill="#222">Arcobacteraceae</text>
<rect x="237" y="795.66" width="11" height="10.8" fill="#d0663a"/>
<text x="255.6" y="804.06" font-size="8.75" fill="#222">Saccharospirillaceae</text>
<rect x="237" y="807.55" width="11" height="10.8" fill="#7ab530"/>
<text x="255.6" y="815.95" font-size="8.75" fill="#222">Balneolaceae</text>
<rect x="237" y="819.43" width="11" height="10.8" fill="#e5e5e5"/>
<text x="255.6" y="827.83" font-size="8.75" fill="#222">Other specific bacteria</text>
<rect x="237" y="831.32" width="11" height="10.8" fill="url(#dotsLB)"/>
<text x="255.6" y="839.72" font-size="8.75" fill="#222">Other</text>
<text x="396.6" y="665.0" font-size="8.75" font-weight="bold" fill="#111">Habitat-specific bacterial families</text>
<rect x="397.4" y="676.80" width="11" height="10.8" fill="#e03535"/>
<text x="415.6" y="685.20" font-size="8.75" fill="#222">Rhodobacteraceae</text>
<rect x="397.4" y="688.69" width="11" height="10.8" fill="#80249a"/>
<text x="415.6" y="697.09" font-size="8.75" fill="#222">Alphaproteobacteria unclassified</text>
<rect x="397.4" y="700.57" width="11" height="10.8" fill="#00ffff"/>
<text x="415.6" y="708.97" font-size="8.75" fill="#222">Flavobacteriaceae</text>
<rect x="397.4" y="712.46" width="11" height="10.8" fill="#009e70"/>
<text x="415.6" y="720.86" font-size="8.75" fill="#222">Thalassobaculales unclassified</text>
<rect x="397.4" y="724.34" width="11" height="10.8" fill="#ff5cb8"/>
<text x="415.6" y="732.74" font-size="8.75" fill="#222">Sandaracinaceae</text>
<rect x="397.4" y="736.23" width="11" height="10.8" fill="#2a6ef0"/>
<text x="415.6" y="744.63" font-size="8.75" fill="#222">Cyanobacteriia unclassified</text>
<rect x="397.4" y="748.12" width="11" height="10.8" fill="#78a4f4"/>
<text x="415.6" y="756.52" font-size="8.75" fill="#222">Gammaproteobacteria unclassified</text>
<rect x="397.4" y="760.00" width="11" height="10.8" fill="#f08040"/>
<text x="415.6" y="768.40" font-size="8.75" fill="#222">Cyclobacteriaceae</text>
<rect x="397.4" y="771.89" width="11" height="10.8" fill="#00cccc"/>
<text x="415.6" y="780.29" font-size="8.75" fill="#222">Halieaceae</text>
<rect x="559" y="676.80" width="11" height="10.8" fill="#ee82ee"/>
<text x="577.6" y="685.20" font-size="8.75" fill="#222">Parvularculaceae</text>
<rect x="559" y="688.69" width="11" height="10.8" fill="#999999"/>
<text x="577.6" y="697.09" font-size="8.75" fill="#222">Kiloniellaceae</text>
<rect x="559" y="700.57" width="11" height="10.8" fill="#8b0000"/>
<text x="577.6" y="708.97" font-size="8.75" fill="#222">Saprospiraceae</text>
<rect x="559" y="712.46" width="11" height="10.8" fill="#000000"/>
<text x="577.6" y="720.86" font-size="8.75" fill="#222">Rhizobiaceae</text>
<rect x="559" y="724.34" width="11" height="10.8" fill="#ffd700"/>
<text x="577.6" y="732.74" font-size="8.75" fill="#222">Bacteroidia unclassified</text>
<rect x="559" y="736.23" width="11" height="10.8" fill="#c1ffc1"/>
<text x="577.6" y="744.63" font-size="8.75" fill="#222">Defluviicoccaceae</text>
<rect x="559" y="748.12" width="11" height="10.8" fill="#ffe1ff"/>
<text x="577.6" y="756.52" font-size="8.75" fill="#222">Cryomorphaceae</text>
<rect x="559" y="760.00" width="11" height="10.8" fill="#e5e5e5"/>
<text x="577.6" y="768.40" font-size="8.75" fill="#222">Other specific bacteria</text>
<rect x="559" y="771.89" width="11" height="10.8" fill="url(#dotsLD)"/>
<text x="577.6" y="780.29" font-size="8.75" fill="#222">Other</text>
</svg></body></html>
